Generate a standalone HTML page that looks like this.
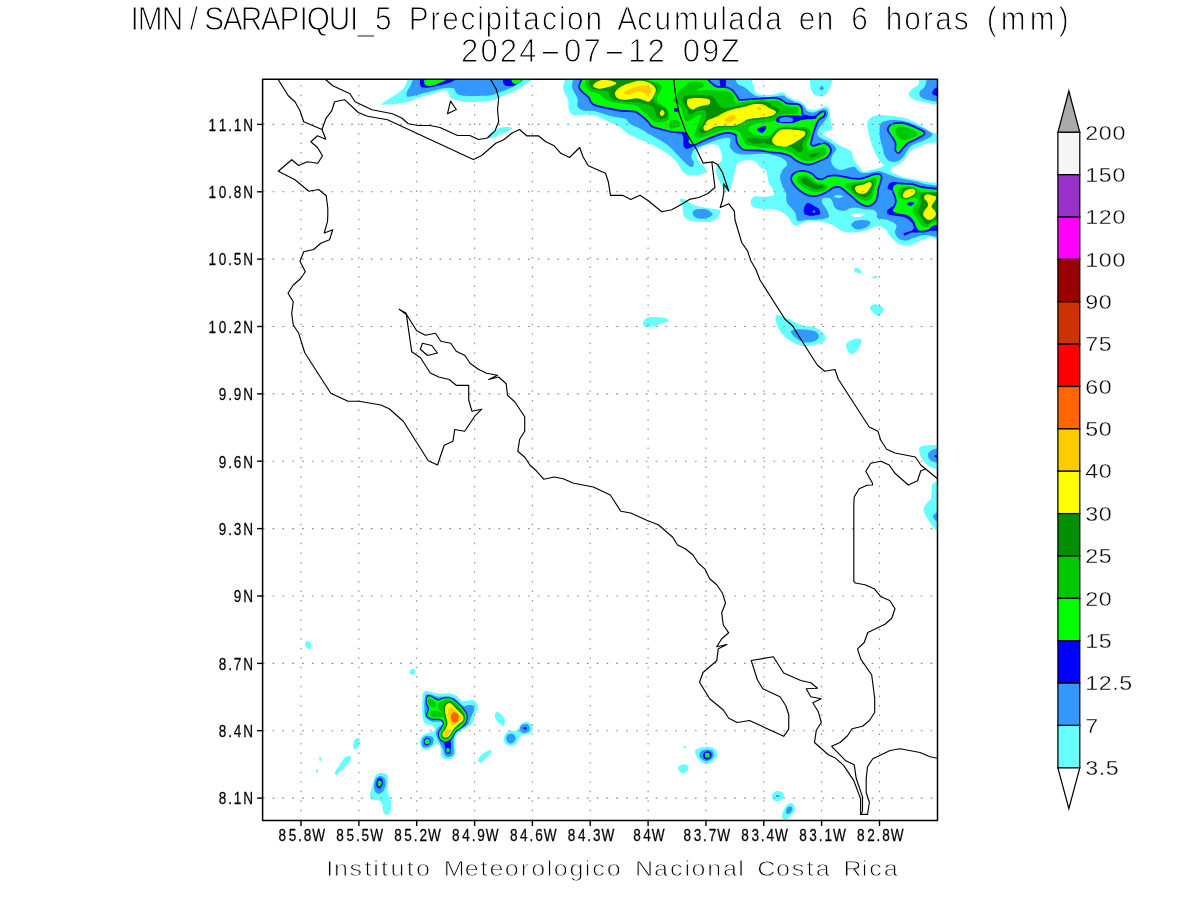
<!DOCTYPE html>
<html lang="es"><head><meta charset="utf-8"><title>IMN/SARAPIQUI_5 Precipitacion Acumulada en 6 horas (mm)</title>
<style>
html,body{margin:0;padding:0;background:#fff;}
body{width:1200px;height:900px;overflow:hidden;}
svg{display:block;}
text{font-family:"Liberation Sans",sans-serif;fill:#000;}
.thin{stroke:#fff;}
.coast{fill:none;stroke:#000;stroke-width:1.15;stroke-linejoin:round;stroke-linecap:round;}
.grid{fill:none;stroke:#8c8c8c;stroke-width:1.1;}
.tick{stroke:#000;stroke-width:1.4;fill:none;}
.cb{stroke:#000;stroke-width:1.25;stroke-linejoin:miter;stroke-miterlimit:10;}
</style></head><body>
<svg width="1200" height="900" viewBox="0 0 1200 900">
<rect x="0" y="0" width="1200" height="900" fill="#fff"/>
<defs><clipPath id="fr"><rect x="262.6" y="79.3" width="674.9" height="741.2"/></clipPath></defs>
<g clip-path="url(#fr)" shape-rendering="geometricPrecision">
<path d="M567.5 75C567.5 75 563 83.3 563.1 87.5C563.2 91.7 567.2 96.5 568.1 100C569.1 103.5 567.8 106.2 568.8 108.8C569.7 111.2 569.8 114 573.8 115C577.7 116 586.9 114 592.5 115C598.1 116 602.9 119.2 607.5 121.2C612.1 123.3 616.2 125.2 620 127.5C623.8 129.8 625 132.3 630 135C635 137.7 644.4 141 650 143.8C655.6 146.5 659.6 148.5 663.8 151.2C667.9 154 671.9 156.7 675 160C678.1 163.3 680.2 168.8 682.5 171.2C684.8 173.8 685.6 174.5 688.8 175C691.9 175.5 698.3 175.2 701.2 174.4C704.2 173.5 706 171.6 706.2 170C706.5 168.4 704 166.9 702.5 165C701 163.1 698.4 160.8 697.5 158.8C696.6 156.7 696.2 154.4 696.9 152.5C697.5 150.6 699.1 148.9 701.2 147.5C703.4 146.1 707.3 144.7 710 144.4C712.7 144.1 715.6 144.3 717.5 145.6C719.4 147 720.5 150.1 721.2 152.5C722 154.9 722.5 157.9 721.9 160C721.2 162.1 718.4 162.9 717.5 165C716.6 167.1 715.8 169.6 716.2 172.5C716.7 175.4 718.5 179.6 720 182.5C721.5 185.4 723.3 188.8 725 190C726.7 191.2 728.5 192.3 730 190C731.5 187.7 732.5 180.6 733.8 176.2C735 171.9 735.6 166.4 737.5 163.8C739.4 161.1 742.1 161 745 160.6C747.9 160.2 752.5 160.2 755 161.2C757.5 162.3 758.1 165.2 760 166.9C761.9 168.5 764.8 168.6 766.2 171.2C767.7 173.9 767.5 179.2 768.8 182.5C770 185.8 773.1 189.1 773.8 191.2C774.4 193.4 774.4 194.7 772.5 195.6C770.6 196.6 765.4 196.8 762.5 196.9C759.6 197 756.9 195.7 755 196.2C753.1 196.8 751.8 198.3 751.2 200C750.7 201.7 750.4 204.8 751.9 206.2C753.3 207.7 757 208.3 760 208.8C763 209.2 766.7 208.3 770 208.8C773.3 209.2 777.1 210 780 211.2C782.9 212.5 785.6 214.5 787.5 216.2C789.4 218 789.8 220.3 791.2 221.9C792.7 223.4 793.5 225.7 796.2 225.6C799 225.5 803.5 222 807.5 221.2C811.5 220.5 815.8 220.6 820 221.2C824.2 221.9 828.8 223.3 832.5 225C836.2 226.7 838.8 230 842.5 231.2C846.2 232.5 850.8 232.7 855 232.5C859.2 232.3 863.8 231 867.5 230C871.2 229 874.4 226.2 877.5 226.2C880.6 226.2 884.2 228.3 886.2 230C888.3 231.7 887.9 234 890 236.2C892.1 238.5 895.4 242.3 898.8 243.8C902.1 245.2 906 245.6 910 245C914 244.4 919 241.2 922.5 240C926 238.8 927.5 237 931.2 237.5C935 238 945 243.1 945 243.1L945 183.1C945 183.1 932.5 182.5 927.5 181.9C922.5 181.2 919.2 180.2 915 179.4C910.8 178.5 906.2 178 902.5 176.9C898.8 175.7 894.4 174 892.5 172.5C890.6 171 890 169.6 891.2 168.1C892.5 166.7 897.5 165.5 900 163.8C902.5 162 904.6 159.6 906.2 157.5C907.9 155.4 907.7 153.1 910 151.2C912.3 149.4 916.7 147.6 920 146.2C923.3 144.9 925.8 143.8 930 143.1C934.2 142.5 945 142.5 945 142.5L945 133.8C945 133.8 936.7 134 932.5 132.5C928.3 131 924.6 127.4 920 125C915.4 122.6 909.6 119.6 905 118.1C900.4 116.7 896.7 116.8 892.5 116.2C888.3 115.7 883.5 114.8 880 115C876.5 115.2 873.3 116.2 871.2 117.5C869.2 118.8 868 120.2 867.5 122.5C867 124.8 867.5 127.9 868.1 131.2C868.8 134.6 870.1 139 871.2 142.5C872.4 146 873.5 149.4 875 152.5C876.5 155.6 878.5 159.2 880 161.2C881.5 163.3 883.8 164 883.8 165C883.8 166 882.1 166.7 880 167.5C877.9 168.3 874 169.3 871.2 170C868.5 170.7 865.6 172.3 863.8 171.9C861.9 171.5 861.7 169.5 860 167.5C858.3 165.5 855.2 162.7 853.8 160C852.3 157.3 853.3 153.5 851.2 151.2C849.2 149 844.8 148.3 841.2 146.2C837.7 144.2 833.1 140.8 830 138.8C826.9 136.7 822.1 135.4 822.5 133.8C822.9 132.1 831 130.2 832.5 128.8C834 127.3 831.7 127.1 831.2 125C830.8 122.9 830.3 119 830 116.2C829.7 113.5 830.2 110.4 829.4 108.8C828.5 107.1 827.2 106 825 106.2C822.8 106.5 819.2 109.6 816.2 110C813.3 110.4 809.4 109.6 807.5 108.8C805.6 107.9 806.2 106.2 805 105C803.8 103.8 801.7 102.1 800 101.2C798.3 100.4 797.1 100.8 795 100C792.9 99.2 789.6 97.5 787.5 96.2C785.4 95 785.4 92.7 782.5 92.5C779.6 92.3 774.2 94.8 770 95C765.8 95.2 760.2 95 757.5 93.8C754.8 92.5 754.8 90.6 753.8 87.5C752.7 84.4 751.2 75 751.2 75L567.5 75Z" fill="#66ffff"/>
<path d="M917.5 75C917.5 75 919.8 81.2 918.8 83.8C917.7 86.2 912.9 88.1 911.2 90C909.6 91.9 908.1 93.3 908.8 95C909.4 96.7 912.3 98.8 915 100C917.7 101.2 920 101.4 925 102.5C930 103.6 945 106.9 945 106.9L945 75L917.5 75Z" fill="#66ffff"/>
<path d="M810 75C810 75 809.8 78.8 810 81.2C810.2 83.8 810.2 87.6 811.2 90C812.3 92.4 814 94.8 816.2 95.6C818.5 96.5 822.7 96.4 825 95C827.3 93.6 828.5 90.8 830 87.5C831.5 84.2 833.8 75 833.8 75L810 75Z" fill="#66ffff"/>
<path d="M409.2 75C409.2 75 406.5 84.2 404.2 87.5C401.8 90.8 398.6 92.4 395 95C391.4 97.6 384.3 101.7 382.5 103.3C380.7 104.9 380.3 104.8 384.2 104.7C388.1 104.5 399.9 103.7 405.8 102.5C411.8 101.3 413.8 99.4 420 97.5C426.2 95.6 438.8 91.8 443.3 90.8C447.9 89.9 446.1 90.4 447.5 91.7C448.9 92.9 449 96.7 451.7 98.3C454.3 100 458.9 101.1 463.3 101.7C467.8 102.2 473.2 101.9 478.3 101.7C483.5 101.4 490 101 494.2 100C498.3 99 499 97.8 503.3 95.8C507.6 93.9 514.2 91.8 520 88.3C525.8 84.9 538.3 75 538.3 75L409.2 75Z" fill="#66ffff"/>
<path d="M487.5 135.8C488.3 134.4 493.8 130.6 496.7 129.2C499.6 127.7 502.4 127.1 505 127C507.6 126.9 512.8 127.3 512.5 128.3C512.2 129.4 506.8 131.7 503.3 133.3C499.9 134.9 494.3 137.6 491.7 138C489 138.4 486.7 137.3 487.5 135.8Z" fill="#66ffff"/>
<path d="M680 199.4C680.6 198.3 684 199.1 686.2 200C688.5 200.9 690.2 203.6 693.8 205C697.3 206.4 703.2 207.3 707.5 208.1C711.8 209 717.3 209.1 719.4 210C721.5 210.9 720.5 212.3 720 213.8C719.5 215.2 717.9 217.4 716.2 218.8C714.6 220.1 713.5 221.5 710 221.9C706.5 222.3 699 221.8 695 221.2C691 220.7 688.2 220 686.2 218.8C684.3 217.5 683.8 215.8 683.1 213.8C682.5 211.7 683 208.6 682.5 206.2C682 203.9 679.4 200.4 680 199.4Z" fill="#66ffff"/>
<path d="M851.2 214.6C851.5 214 853.5 213 855.8 212.9C858.1 212.8 864.3 213.5 865 214.2C865.7 214.8 861.8 216.2 860 216.7C858.2 217.1 855.6 217 854.2 216.7C852.7 216.3 851 215.2 851.2 214.6Z" fill="#ffffff"/>
<path d="M575.6 75C575.6 75 571.6 82.3 571.9 86.2C572.2 90.2 576.6 95.4 577.5 98.8C578.4 102.1 576.5 104.3 577.5 106.2C578.5 108.2 580.8 109.8 583.8 110.6C586.7 111.5 590.4 110.3 595 111.2C599.6 112.2 606.2 115 611.2 116.2C616.2 117.5 621.9 117.5 625 118.8C628.1 120 627.1 121.9 630 123.8C632.9 125.6 638.3 127.7 642.5 130C646.7 132.3 650.8 135 655 137.5C659.2 140 663.8 142.1 667.5 145C671.2 147.9 674.2 151.7 677.5 155C680.8 158.3 685 163 687.5 165C690 167 691.5 167.3 692.5 166.9C693.5 166.5 694 164.1 693.8 162.5C693.5 160.9 691.5 159.2 691.2 157.5C691 155.8 691.8 154 692.5 152.5C693.2 151 693.1 150 695.6 148.5C698.1 147 703.4 145.1 707.5 143.5C711.6 141.9 716.2 139.8 720 139C723.8 138.2 728.3 137.1 730 138.5C731.7 139.9 728.8 145 730 147.5C731.2 150 734.2 152.6 737.5 153.8C740.8 154.9 745.4 154.4 750 154.4C754.6 154.4 760.4 153.4 765 153.8C769.6 154.1 774.2 155.2 777.5 156.2C780.8 157.3 783.4 158.5 785 160C786.6 161.5 787.3 163.3 786.9 165C786.5 166.7 783.6 167.9 782.5 170C781.4 172.1 780 174.8 780 177.5C780 180.2 781.5 183.5 782.5 186.2C783.5 189 785.5 191 786.2 193.8C787 196.5 785.4 199.4 786.9 202.5C788.3 205.6 793.2 209.4 795 212.5C796.8 215.6 795.7 219.6 797.5 220.8C799.3 222.1 802.4 220.2 805.8 220C809.3 219.8 814.6 220 818.3 219.6C822.1 219.2 826.7 218.5 828.3 217.5C830 216.5 828.8 214.9 828.3 213.3C827.9 211.8 826.8 210 825.8 208.3C824.9 206.7 823.2 204.7 822.5 203.3C821.8 201.9 821.4 200.9 821.7 200C821.9 199.1 822.8 198.2 824.2 197.9C825.6 197.6 828.6 197.7 830 198.3C831.4 199 831.8 200.3 832.5 201.7C833.2 203.1 833.2 205.3 834.2 206.7C835.1 208.1 836.5 209.3 838.3 210C840.1 210.7 843.1 211.1 845 210.8C846.9 210.6 847.8 208.8 850 208.3C852.2 207.8 855.8 207.8 858.3 207.9C860.8 208.1 862.5 208.8 865 209.2C867.5 209.5 871.4 209.3 873.3 210C875.3 210.7 876 211.9 876.7 213.3C877.4 214.7 875.7 217.2 877.5 218.3C879.3 219.4 884.4 218.9 887.5 220C890.6 221.1 895 222.9 896.2 225C897.5 227.1 894.6 230.2 895 232.5C895.4 234.8 896.9 237.4 898.8 238.8C900.6 240.1 903.5 240.8 906.2 240.6C909 240.4 911.7 238.4 915 237.5C918.3 236.6 921.2 234.8 926.2 235C931.2 235.2 945 238.8 945 238.8L945 186.2C945 186.2 932.5 185.2 927.5 184.4C922.5 183.5 919.2 182.2 915 181.2C910.8 180.3 906.7 179.8 902.5 178.8C898.3 177.7 893.3 176.1 890 175C886.7 173.9 884.6 172.5 882.5 171.9C880.4 171.2 880.4 171 877.5 171.2C874.6 171.5 868.1 173.1 865 173.1C861.9 173.1 860.4 172.3 858.8 171.2C857.1 170.2 856.5 167.5 855 166.9C853.5 166.2 852.5 167 850 167.5C847.5 168 842.7 170.2 840 170C837.3 169.8 835.2 167.7 833.8 166.2C832.3 164.8 831.5 163.1 831.2 161.2C831 159.4 831.7 156.9 832.5 155C833.3 153.1 835.8 151.5 836.2 150C836.7 148.5 836 147.5 835 146.2C834 145 832.1 143.8 830 142.5C827.9 141.2 824.6 140 822.5 138.8C820.4 137.5 818.1 136.7 817.5 135C816.9 133.3 817.3 131.5 818.8 128.8C820.2 126 824.7 121.5 826.2 118.8C827.8 116 828.3 114.2 828.1 112.5C827.9 110.8 826.6 109.1 825 108.8C823.4 108.4 820.6 110 818.8 110.6C816.9 111.2 815.6 112.4 813.8 112.5C811.9 112.6 809.2 112.3 807.5 111.2C805.8 110.2 805 107.5 803.8 106.2C802.5 105 801.5 104.5 800 103.8C798.5 103 797.1 102.7 795 101.9C792.9 101 789.6 99.8 787.5 98.8C785.4 97.7 785.4 95.9 782.5 95.6C779.6 95.3 774.2 96.8 770 96.9C765.8 97 760.4 96.8 757.5 96.2C754.6 95.7 754.6 95.2 752.5 93.8C750.4 92.3 747.5 89.2 745 87.5C742.5 85.8 739.2 85.8 737.5 83.8C735.8 81.7 735 75 735 75L575.6 75Z" fill="#3399ff"/>
<path d="M834.2 196.7C833.9 196.2 835.4 195.2 836.7 195C837.9 194.8 840.6 195.1 841.7 195.4C842.7 195.8 843.5 196.7 842.9 197.1C842.4 197.5 839.8 198 838.3 197.9C836.9 197.8 834.4 197.2 834.2 196.7Z" fill="#66ffff"/>
<path d="M880 125C880.8 122.3 882.5 122.1 885 121.2C887.5 120.4 891.2 119.9 895 120C898.8 120.1 903.5 120.8 907.5 121.9C911.5 122.9 915.2 124.7 918.8 126.2C922.3 127.8 926.5 129.8 928.8 131.2C931 132.7 933.1 133.5 932.5 135C931.9 136.5 928.3 138.3 925 140C921.7 141.7 915.4 143.3 912.5 145C909.6 146.7 909 148.1 907.5 150C906 151.9 905.4 154.4 903.8 156.2C902.1 158.1 899.8 160.4 897.5 161.2C895.2 162.1 892.1 162.1 890 161.2C887.9 160.4 886.2 158.5 885 156.2C883.8 154 883.3 150.6 882.5 147.5C881.7 144.4 880.4 141.2 880 137.5C879.6 133.8 879.2 127.7 880 125Z" fill="#3399ff"/>
<path d="M927.5 75C927.5 75 926.2 83.5 925 86.2C923.8 89 920.8 89.6 920 91.2C919.2 92.9 918.8 94.8 920 96.2C921.2 97.7 923.3 98.9 927.5 100C931.7 101.1 945 103.1 945 103.1L945 75L927.5 75Z" fill="#3399ff"/>
<path d="M414.2 75C414.2 75 411.9 82.4 410.8 85C409.7 87.6 408.1 88.9 407.5 90.8C406.9 92.8 405.4 96.1 407.5 96.7C409.6 97.2 414 95.6 420 94.2C426 92.8 437.8 89.3 443.3 88.3C448.9 87.4 451.1 87.5 453.3 88.3C455.6 89.2 455 92.1 456.7 93.3C458.3 94.6 458.9 95.4 463.3 95.8C467.8 96.2 478.2 96.1 483.3 95.8C488.5 95.6 488.9 95.8 494.2 94.2C499.4 92.5 509 89 515 85.8C521 82.6 530 75 530 75L414.2 75Z" fill="#3399ff"/>
<path d="M692.5 212.5C692.7 211.2 694 209.9 696.2 209.4C698.5 208.9 703.5 208.6 706.2 209.4C709 210.1 712.1 212.4 712.5 213.8C712.9 215.1 710.6 216.7 708.8 217.5C706.9 218.3 703.5 218.9 701.2 218.8C699 218.6 696.5 217.9 695 216.9C693.5 215.8 692.3 213.8 692.5 212.5Z" fill="#3399ff"/>
<path d="M851.2 224.6C851.7 223.5 853.7 221.6 855.8 220.8C858 220.1 861.8 219.9 864.2 220C866.5 220.1 869.2 220.8 870 221.7C870.8 222.5 870.1 223.9 869.2 225C868.2 226.1 866.1 227.6 864.2 228.3C862.2 229.1 859.3 229.7 857.5 229.6C855.7 229.4 854.4 228.3 853.3 227.5C852.3 226.7 850.8 225.7 851.2 224.6Z" fill="#3399ff"/>
<path d="M819.4 88.1C819.4 87.4 821.1 86.2 821.9 86.2C822.6 86.2 823.8 87.4 823.8 88.1C823.8 88.9 822.6 90.6 821.9 90.6C821.1 90.6 819.4 88.9 819.4 88.1Z" fill="#3399ff"/>
<path d="M680 131.2C680.7 130.4 685.9 129.4 687.5 131.2C689.1 133.1 688.3 140.1 689.4 142.5C690.4 144.9 694.1 144.6 693.8 145.6C693.4 146.7 689.2 148.6 687.5 148.8C685.8 148.9 684.5 148.3 683.8 146.2C683 144.2 683.8 138.8 683.1 136.2C682.5 133.8 679.3 132.1 680 131.2Z" fill="#0000ff"/>
<path d="M719.4 75L725.6 75C725.6 75 726.5 84.4 725.6 86.2C724.8 88.1 721.7 88.1 720.6 86.2C719.6 84.4 719.4 75 719.4 75Z" fill="#0000ff"/>
<path d="M804.2 207.5C804.7 205.8 806 203.3 807.5 202.9C809 202.6 811.5 204.5 813.3 205.4C815.1 206.3 817.2 207.3 818.3 208.3C819.4 209.4 819.8 210.6 820 211.7C820.2 212.7 820.6 214 819.6 214.6C818.6 215.2 816 215.3 814.2 215.4C812.3 215.6 810 215.8 808.3 215.4C806.7 215.1 804.9 214.7 804.2 213.3C803.5 212 803.6 209.2 804.2 207.5Z" fill="#0000ff"/>
<path d="M945 86.2C945 86.2 939.6 86 937.5 86.9C935.4 87.7 933.1 89.9 932.5 91.2C931.9 92.6 931.7 94.1 933.8 95C935.8 95.9 945 96.9 945 96.9L945 86.2Z" fill="#0000ff"/>
<path d="M887.9 187.5C888.1 186.6 888.3 184.7 889.2 183.8C890.1 182.8 891.8 182.2 893.3 182.1C894.9 181.9 898.1 182.3 898.3 182.9C898.6 183.5 895.8 184.7 895 185.8C894.2 187 894.4 189.4 893.3 190C892.2 190.6 889.2 189.6 888.3 189.2C887.4 188.8 887.8 188.4 887.9 187.5Z" fill="#0000ff"/>
<path d="M887.1 210.4 891.7 206.7 895.8 206.7 895 212.5 906.7 215 914.2 221.7 918.3 230 928.3 229.6 945 221.7 945 230.8 928.3 230.8 918.3 232.5 911.7 232.5 904.2 235.8 903.3 233.3 911.7 230.8 914.2 228.3 912.5 223.3 908.3 219.2 903.3 216.7 895 215.8 887.5 214.2Z" fill="#0000ff"/>
<path d="M420.8 75C420.8 75 419.6 82.1 420 84.2C420.4 86.2 421.1 87.1 423.3 87.5C425.6 87.9 428.9 87.5 433.3 86.7C437.8 85.8 445 84.4 450 82.5C455 80.6 463.3 75 463.3 75L420.8 75Z" fill="#0000ff"/>
<path d="M503.3 75C503.3 75 502.5 81.4 503.3 83.3C504.2 85.2 506.1 86.2 508.3 86.3C510.6 86.5 513.5 86.1 516.7 84.2C519.9 82.3 527.5 75 527.5 75L503.3 75Z" fill="#0000ff"/>
<path d="M584.2 75C584.2 75 581.5 81.2 580.8 83.3C580.1 85.4 579.6 86.1 580 87.5C580.4 88.9 581.8 90.1 583.3 91.7C584.9 93.2 587.8 95 589.2 96.7C590.6 98.3 590.6 100.3 591.7 101.7C592.8 103 593.1 103.6 595.8 104.6C598.6 105.6 604 106.6 608.3 107.5C612.6 108.4 617.2 109.4 621.7 110C626.1 110.6 631.7 110 635 110.8C638.3 111.7 639.4 113.3 641.7 115C643.9 116.7 646.5 119 648.3 120.8C650.1 122.6 650.4 124.6 652.5 125.8C654.6 127.1 657.8 127.5 660.8 128.3C663.9 129.2 666.3 130 670.8 130.8C675.3 131.7 684.9 131.4 687.9 133.3C690.9 135.3 687.7 140.7 688.8 142.5C689.8 144.3 691.7 144.6 694.2 144.2C696.6 143.8 700.1 141.4 703.3 140C706.5 138.6 710 137.1 713.3 135.8C716.7 134.6 720.3 133.1 723.3 132.5C726.4 131.9 729.4 132.1 731.7 132.5C733.9 132.9 735.7 133.5 736.7 135C737.6 136.5 736.8 139.7 737.5 141.7C738.2 143.6 739.6 145.4 740.8 146.7C742.1 147.9 742.2 148.7 745 149.2C747.8 149.7 754.2 149.4 757.5 149.6C760.8 149.8 762.4 150.1 765 150.4C767.6 150.8 770.6 151.3 773.3 151.7C776.1 152 778.9 151.9 781.7 152.5C784.4 153.1 787.5 153.8 790 155C792.5 156.2 794.2 158.6 796.7 160C799.2 161.4 802.5 162.8 805 163.3C807.5 163.9 809.2 163.9 811.7 163.3C814.2 162.8 817.5 161.1 820 160C822.5 158.9 825 158.1 826.7 156.7C828.3 155.3 829.6 153.2 830 151.7C830.4 150.1 830 148.8 829.2 147.5C828.3 146.2 826.7 144.6 825 144.2C823.3 143.8 821.1 144.6 819.2 145C817.2 145.4 814.9 146.8 813.3 146.7C811.8 146.5 810.4 145.3 810 144.2C809.6 143.1 810.4 141.8 810.8 140C811.2 138.2 811.8 135.7 812.5 133.3C813.2 131 814 128.2 815 125.8C816 123.5 816.9 120.8 818.3 119.2C819.7 117.5 822.4 116.9 823.3 115.8C824.3 114.7 824.6 112.9 824.2 112.5C823.8 112.1 822.4 112.5 820.8 113.3C819.3 114.2 817.6 116.9 815 117.5C812.4 118.1 807.2 117.2 805 116.7C802.8 116.1 802.4 115.6 801.7 114.2C801 112.8 801.5 109.9 800.8 108.3C800.1 106.8 799.9 105.7 797.5 105C795.1 104.3 789.6 105 786.7 104.2C783.8 103.3 782.2 100.9 780 100C777.8 99.1 775.8 98.9 773.3 98.8C770.8 98.6 768.5 99 765 99.2C761.5 99.4 756.7 99.7 752.5 100C748.3 100.3 742.4 100.8 740 100.8C737.6 100.8 739 100.8 738.3 100C737.6 99.2 736.9 97.4 735.8 95.8C734.7 94.3 733.2 92.1 731.7 90.8C730.1 89.6 729.2 88.9 726.7 88.3C724.2 87.8 719.2 88.2 716.7 87.5C714.2 86.8 713.2 85.4 711.7 84.2C710.1 82.9 708.3 81.5 707.5 80C706.7 78.5 706.7 75 706.7 75L584.2 75Z" fill="#00ff00" stroke="#0000ff" stroke-width="3.4" paint-order="stroke"/>
<path d="M792.1 177.9C792.3 176.7 793 175.1 794.2 174.2C795.3 173.2 797.2 172.4 799.2 172.1C801.1 171.7 803.8 171.7 805.8 172.1C807.9 172.5 809.9 173.4 811.7 174.6C813.5 175.8 814.9 178.3 816.7 179.2C818.5 180.1 820.6 180.3 822.5 180C824.4 179.7 826.2 177.7 828.3 177.1C830.4 176.5 832.5 176.2 835 176.2C837.5 176.3 840.6 177 843.3 177.5C846.1 178 848.9 178.8 851.7 179.2C854.4 179.5 857.5 179.8 860 179.6C862.5 179.4 864.4 178.6 866.7 177.9C868.9 177.2 871.2 175.9 873.3 175.4C875.4 174.9 877.9 174.6 879.2 175C880.4 175.4 880.8 176.5 880.8 177.9C880.8 179.3 879.7 181.5 879.2 183.3C878.6 185.2 877.9 187.1 877.5 189.2C877.1 191.2 877.1 193.9 876.7 195.8C876.2 197.8 876 199.4 875 200.8C874 202.3 872.2 203.8 870.8 204.6C869.4 205.3 868.5 205.8 866.7 205.4C864.9 205.1 862.1 203.8 860 202.5C857.9 201.2 856.1 199.2 854.2 197.5C852.2 195.8 850.1 194 848.3 192.5C846.5 191 844.9 189.4 843.3 188.3C841.8 187.3 840.8 186.5 839.2 186.2C837.5 186 835.1 186 833.3 186.7C831.5 187.3 830.1 188.9 828.3 190C826.5 191.1 824.4 192.5 822.5 193.3C820.6 194.2 818.8 194.7 816.7 195C814.6 195.3 812.2 195.5 810 195C807.8 194.5 805.6 193.5 803.3 192.1C801.1 190.7 798.4 188.4 796.7 186.7C794.9 184.9 793.7 183.1 792.9 181.7C792.2 180.2 791.9 179.2 792.1 177.9Z" fill="#00ff00" stroke="#0000ff" stroke-width="3.4" paint-order="stroke"/>
<path d="M892.9 189.2C892.9 188 893.3 186.2 894.2 185.4C895.1 184.6 896.4 184.3 898.3 184.2C900.3 184 903.2 184.4 905.8 184.6C908.5 184.8 911.8 184.9 914.2 185.4C916.5 185.9 917.6 186.9 920 187.5C922.4 188.1 924.2 188.3 928.3 188.8C932.5 189.2 945 190.4 945 190.4L945 222.5C945 222.5 936.1 224.7 933.3 225.8C930.6 227 930.1 228.8 928.3 229.6C926.5 230.4 924.2 230.8 922.5 230.8C920.8 230.9 919.4 230.8 918.3 230C917.2 229.2 916.5 227.2 915.8 225.8C915.1 224.4 915 223.1 914.2 221.7C913.3 220.3 912.1 218.6 910.8 217.5C909.6 216.4 908.5 215.6 906.7 215C904.9 214.4 901.9 214.2 900 213.8C898.1 213.3 896.2 213.1 895 212.5C893.8 211.9 892.9 211 892.9 210C892.9 209 894.4 208.1 895 206.7C895.6 205.3 896.5 203.3 896.7 201.7C896.8 200 896.2 198.2 895.8 196.7C895.4 195.1 894.7 193.8 894.2 192.5C893.7 191.2 892.9 190.3 892.9 189.2Z" fill="#00ff00" stroke="#0000ff" stroke-width="3.4" paint-order="stroke"/>
<path d="M888.8 130C888.5 128.2 889.6 126.7 891.2 125.6C892.9 124.6 896 123.9 898.8 123.8C901.5 123.6 904.6 124.2 907.5 125C910.4 125.8 913.5 127.4 916.2 128.8C919 130.1 923.5 131.7 923.8 133.1C924 134.6 920.2 135.9 917.5 137.5C914.8 139.1 910 140.8 907.5 142.5C905 144.2 904 145.9 902.5 147.5C901 149.1 899.8 151.5 898.8 151.9C897.7 152.3 896.7 151.6 896.2 150C895.8 148.4 896.9 144.8 896.2 142.5C895.6 140.2 893.8 138.3 892.5 136.2C891.2 134.2 889 131.8 888.8 130Z" fill="#00ff00" stroke="#0000ff" stroke-width="3.4" paint-order="stroke"/>
<path d="M425.8 75C425.8 75 423.9 80.7 424.2 82.5C424.4 84.3 425.4 85.6 427.5 85.8C429.6 86.1 431.8 86 436.7 84.2C441.5 82.4 456.7 75 456.7 75L425.8 75Z" fill="#00ff00"/>
<path d="M510.8 75C510.8 75 511.2 81.1 512.5 82.5C513.8 83.9 516.1 84.6 518.3 83.3C520.6 82.1 525.8 75 525.8 75L510.8 75Z" fill="#00ff00"/>
<path d="M812.7 211.4C812.7 211 813.5 210.2 813.9 210.2C814.3 210.2 815.2 211 815.2 211.4C815.2 211.8 814.3 212.7 813.9 212.7C813.5 212.7 812.7 211.8 812.7 211.4Z" fill="#00ff00"/>
<path d="M674.2 107.9 677.9 107.9 677.9 111.7 674.2 111.7Z" fill="#0000ff"/>
<path d="M775.8 120C775.8 119 776.5 117 778.3 116.2C780.1 115.5 784 115.6 786.7 115.4C789.3 115.3 791.7 115.4 794.2 115.4C796.7 115.5 798.2 115.5 801.7 115.7C805.1 115.8 812.7 116 815 116.5C817.3 117 817.4 118.2 815.4 118.8C813.5 119.3 806.2 119.3 803.3 119.7C800.5 120 800 120.5 798.3 121C796.7 121.5 795.6 122.5 793.3 122.9C791.1 123.3 787.5 123.4 785 123.3C782.5 123.3 779.9 123.1 778.3 122.5C776.8 121.9 775.8 121 775.8 120Z" fill="#0000ff"/>
<path d="M779.2 120C779.2 119.3 779.6 118.4 780.8 117.9C782.1 117.4 784.7 117 786.7 117.1C788.6 117.2 791.5 117.6 792.5 118.3C793.5 119 793.5 120.6 792.5 121.2C791.5 121.9 788.6 121.9 786.7 122.1C784.7 122.2 782.1 122.4 780.8 122.1C779.6 121.7 779.2 120.7 779.2 120Z" fill="#3399ff"/>
<path d="M757.1 129.6C757.1 128.5 760.2 127.2 761.7 126.7C763.1 126.1 765.2 125.7 765.8 126.2C766.5 126.8 766.1 128.9 765.4 130C764.7 131.1 763.1 133 761.7 132.9C760.3 132.8 757.1 130.6 757.1 129.6Z" fill="#0000ff"/>
<path d="M907.1 203.8C907.2 203.2 908.8 202.5 910 202.3C911.2 202.1 913.8 202.1 914.2 202.5C914.6 202.9 913.3 204.4 912.5 205C911.7 205.6 910.1 206 909.2 205.8C908.3 205.6 906.9 204.3 907.1 203.8Z" fill="#0000ff"/>
<path d="M587.5 75C587.5 75 585.1 81.9 585 84.2C584.9 86.4 585.6 87.1 586.7 88.3C587.8 89.6 589.7 90.8 591.7 91.7C593.6 92.5 596.4 92.4 598.3 93.3C600.3 94.3 601.7 96.2 603.3 97.5C605 98.8 605.8 99.9 608.3 100.8C610.8 101.8 615 102.8 618.3 103.3C621.7 103.9 625.3 103.8 628.3 104.2C631.4 104.6 634.4 104.9 636.7 105.8C638.9 106.8 639.9 108.5 641.7 110C643.5 111.5 645.8 113.3 647.5 115C649.2 116.7 650.1 118.8 651.7 120C653.2 121.2 654.4 122.2 656.7 122.5C658.9 122.8 662.9 122.4 665 121.7C667.1 121 668.6 120 669.2 118.3C669.7 116.7 669 113.6 668.3 111.7C667.6 109.7 666.7 108.2 665 106.7C663.3 105.1 659.7 104 658.3 102.5C656.9 101 656.4 99.2 656.7 97.5C656.9 95.8 659.2 94.2 660 92.5C660.8 90.8 661.9 89 661.7 87.5C661.4 86 660.3 84.4 658.3 83.3C656.4 82.2 652.1 82.2 650 80.8C647.9 79.4 645.8 75 645.8 75L587.5 75Z" fill="#00c800"/>
<path d="M675 98.3C676 97.1 676.8 93.6 678.3 91.7C679.9 89.7 682.4 88.2 684.2 86.7C686 85.1 686.8 83.3 689.2 82.5C691.5 81.7 696 81.5 698.3 81.7C700.7 81.8 702.5 82.5 703.3 83.3C704.2 84.2 704.3 85.7 703.3 86.7C702.4 87.6 698.3 88.5 697.5 89.2C696.7 89.9 697.1 90.7 698.3 90.8C699.6 91 701.9 90.1 705 90C708.1 89.9 712.8 90.1 716.7 90.4C720.6 90.7 725.6 90.8 728.3 91.7C731.1 92.6 732.4 94.4 733.3 95.8C734.3 97.2 733.6 98.9 734.2 100C734.7 101.1 734.9 102.2 736.7 102.5C738.5 102.8 742.2 101.9 745 101.7C747.8 101.4 750.6 101.1 753.3 100.8C756.1 100.6 758.9 100 761.7 100C764.4 100 767.2 100.7 770 100.8C772.8 101 776.1 100.1 778.3 100.8C780.6 101.5 781.4 104 783.3 105C785.3 106 787.8 106.4 790 106.7C792.2 106.9 795.3 106.1 796.7 106.7C798.1 107.2 798.3 108.9 798.3 110C798.3 111.1 798.1 112.6 796.7 113.3C795.3 114 792.2 114 790 114.2C787.8 114.4 785.3 114.2 783.3 114.6C781.4 115 779.7 115.8 778.3 116.7C776.9 117.6 776.1 119.2 775 120C773.9 120.8 773.3 121.2 771.7 121.7C770 122.1 767.5 122.2 765 122.5C762.5 122.8 759 122.8 756.7 123.3C754.3 123.9 752.2 124.9 750.8 125.8C749.4 126.8 748.3 128.1 748.3 129.2C748.3 130.3 749.4 131.5 750.8 132.5C752.2 133.5 754.6 134.4 756.7 135C758.8 135.6 761.1 136.2 763.3 136.2C765.6 136.2 768.3 135.8 770 135C771.7 134.2 772.2 132.8 773.3 131.7C774.4 130.6 775 129.2 776.7 128.3C778.3 127.5 780.8 126.9 783.3 126.7C785.8 126.4 788.3 126.6 791.7 126.7C795 126.7 800.4 126.7 803.3 127.1C806.2 127.5 807.9 128.1 809.2 129.2C810.4 130.2 810.8 131.8 810.8 133.3C810.8 134.9 809.9 136.7 809.2 138.3C808.5 140 806.9 141.8 806.7 143.3C806.4 144.9 806.8 146.4 807.5 147.5C808.2 148.6 809.2 149.9 810.8 150C812.5 150.1 815.4 148.8 817.5 148.3C819.6 147.9 821.8 147.2 823.3 147.5C824.9 147.8 826.2 148.9 826.7 150C827.1 151.1 826.9 152.9 825.8 154.2C824.7 155.4 822.4 156.4 820 157.5C817.6 158.6 814.2 160.3 811.7 160.8C809.2 161.4 807.2 161.4 805 160.8C802.8 160.3 800.6 158.9 798.3 157.5C796.1 156.1 794.2 153.8 791.7 152.5C789.2 151.2 786.4 150.7 783.3 150C780.3 149.3 777.1 148.8 773.3 148.3C769.6 147.9 765 148.1 760.8 147.5C756.7 146.9 751 145.7 748.3 145C745.7 144.3 746 144.4 745 143.3C744 142.2 743.3 140.1 742.5 138.3C741.7 136.5 741.5 133.9 740 132.5C738.5 131.1 736.1 130.4 733.3 130C730.6 129.6 726.7 129.4 723.3 130C720 130.6 716.4 132.2 713.3 133.3C710.3 134.4 707.6 135.8 705 136.7C702.4 137.5 699.3 138.6 697.5 138.3C695.7 138.1 695.1 136.7 694.2 135C693.2 133.3 692.9 130.6 691.7 128.3C690.4 126.1 688.1 123.6 686.7 121.7C685.3 119.7 684 118.5 683.3 116.7C682.6 114.9 683.1 112.6 682.5 110.8C681.9 109 681.2 107.2 680 105.8C678.8 104.4 676.2 103.6 675 102.5C673.8 101.4 672.5 99.9 672.5 99.2C672.5 98.5 674 99.6 675 98.3Z" fill="#00c800"/>
<path d="M670 121.7C670.8 120.3 673.5 120 675 120C676.5 120 678.2 120.8 679.2 121.7C680.1 122.5 681.2 124 680.8 125C680.4 126 678.5 126.9 676.7 127.5C674.9 128.1 671.1 129.3 670 128.3C668.9 127.4 669.2 123.1 670 121.7Z" fill="#00c800"/>
<path d="M683.5 124C684 122.3 686.8 122 688.5 121C690.2 120 691.7 119 693.5 118C695.3 117 698.2 115.1 699.5 114.8C700.8 114.5 701.2 115.1 701.2 116C701.2 116.9 700.1 118.5 699.5 120C698.9 121.5 698.1 123.3 697.5 125C696.9 126.7 696.6 128.3 696 130C695.4 131.7 694.8 133.5 694 135C693.2 136.5 692 138.7 691 139C690 139.3 688.9 138.3 688 137C687.1 135.7 686.2 133.2 685.5 131C684.8 128.8 683 125.7 683.5 124Z" fill="#00ff00"/>
<path d="M796.7 179.2C796.9 177.9 798.3 176.5 800 175.8C801.7 175.2 804.7 175 806.7 175.4C808.6 175.8 810 177.2 811.7 178.3C813.3 179.5 814.6 181.5 816.7 182.5C818.8 183.5 822.4 183.5 824.2 184.2C826 184.9 827.4 185.7 827.5 186.7C827.6 187.6 826.5 189.1 825 190C823.5 190.9 820.6 191.9 818.3 192.1C816.1 192.3 814 192 811.7 191.2C809.3 190.5 806.4 188.8 804.2 187.5C801.9 186.2 799.6 184.7 798.3 183.3C797.1 181.9 796.4 180.4 796.7 179.2Z" fill="#00c800"/>
<path d="M845 185C845.4 183.8 849.2 183 851.7 182.5C854.2 182 857.2 182.5 860 182.1C862.8 181.7 866 180.7 868.3 180C870.7 179.3 872.8 177.9 874.2 177.9C875.6 177.9 876.5 178.5 876.7 180C876.8 181.5 875.6 184.4 875 186.7C874.4 188.9 873.9 191.4 873.3 193.3C872.8 195.3 872.8 197.1 871.7 198.3C870.6 199.6 868.6 200.7 866.7 200.8C864.7 201 862.1 200.1 860 199.2C857.9 198.2 856 196.5 854.2 195C852.4 193.5 850.7 191.7 849.2 190C847.6 188.3 844.6 186.2 845 185Z" fill="#00c800"/>
<path d="M898.3 192.5C898.5 191.1 898.9 189.3 900 188.3C901.1 187.4 903.1 186.9 905 186.7C906.9 186.4 909.7 186.3 911.7 186.7C913.6 187 915.3 187.9 916.7 188.8C918.1 189.6 918.6 191.2 920 191.7C921.4 192.2 920.8 191.6 925 191.7C929.2 191.7 945 192.1 945 192.1L945 218.3C945 218.3 935.3 221.9 932.5 223.3C929.7 224.7 929.9 226 928.3 226.7C926.8 227.3 924.7 227.6 923.3 227.1C921.9 226.5 921 224.7 920 223.3C919 222 918.5 220.7 917.5 219.2C916.5 217.6 915 215.7 914.2 214.2C913.3 212.6 912.4 211.4 912.5 210C912.6 208.6 914.2 207.1 915 205.8C915.8 204.6 917.2 203.8 917.5 202.5C917.8 201.2 917.6 199 916.7 198.3C915.7 197.6 913.3 198.1 911.7 198.3C910 198.6 908.2 199.9 906.7 200C905.1 200.1 903.8 199.7 902.5 199.2C901.2 198.6 899.9 197.8 899.2 196.7C898.5 195.6 898.2 193.9 898.3 192.5Z" fill="#00c800"/>
<path d="M895 130C895.2 128.4 896.9 127.3 898.8 126.9C900.6 126.5 903.5 126.8 906.2 127.5C909 128.2 913.1 130 915 131.2C916.9 132.5 918.3 133.8 917.5 135C916.7 136.2 912.5 137.9 910 138.8C907.5 139.6 904.6 140.4 902.5 140C900.4 139.6 898.8 137.9 897.5 136.2C896.2 134.6 894.8 131.6 895 130Z" fill="#00c800"/>
<path d="M591.7 75C591.7 75 589.2 81.9 589.2 84.2C589.2 86.4 590 87.3 591.7 88.3C593.3 89.4 596.4 89.9 599.2 90.4C601.9 91 606.5 90.6 608.3 91.7C610.1 92.7 608.9 95.3 610 96.7C611.1 98.1 612.5 99.2 615 100C617.5 100.8 621.2 101.2 625 101.7C628.8 102.1 634 102.1 637.5 102.5C641 102.9 643.3 103.5 645.8 104.2C648.3 104.9 651 105.6 652.5 106.7C654 107.8 654.3 109.2 655 110.8C655.7 112.5 655.6 115.3 656.7 116.7C657.8 118.1 660.1 119 661.7 119.2C663.2 119.3 664.9 118.6 665.8 117.5C666.8 116.4 667.6 114 667.5 112.5C667.4 111 666.2 109.4 665 108.3C663.8 107.2 661.7 106.7 660 105.8C658.3 105 656.1 104.6 655 103.3C653.9 102.1 653.1 100.3 653.3 98.3C653.6 96.4 656 93.5 656.7 91.7C657.4 89.9 658.1 88.9 657.5 87.5C656.9 86.1 655.1 84.4 653.3 83.3C651.5 82.2 648.6 82.2 646.7 80.8C644.7 79.4 641.7 75 641.7 75L591.7 75Z" fill="#009000"/>
<path d="M682.5 99.2C682.8 97.9 682.9 96.5 685 95.8C687.1 95.1 690.8 95.1 695 95C699.2 94.9 706.7 94.7 710 95.4C713.3 96.1 713.8 97.8 715 99.2C716.2 100.5 716.4 101.9 717.5 103.3C718.6 104.7 719.9 106.7 721.7 107.5C723.5 108.3 726.4 108.5 728.3 108.3C730.3 108.2 730.6 107.4 733.3 106.7C736.1 106 741.7 104.9 745 104.2C748.3 103.5 750.6 102.9 753.3 102.5C756.1 102.1 758.9 101.6 761.7 101.7C764.4 101.7 768.3 102.2 770 102.9C771.7 103.6 770.6 105.1 771.7 105.8C772.8 106.6 775.4 106.7 776.7 107.5C777.9 108.3 779.2 109.7 779.2 110.8C779.2 111.9 777.9 113.1 776.7 114.2C775.4 115.3 774.3 116.7 771.7 117.5C769 118.3 764.7 118.6 760.8 119.2C756.9 119.7 751.8 120.1 748.3 120.8C744.9 121.5 741.4 122.6 740 123.3C738.6 124 741.1 124.4 740 125C738.9 125.6 736 126.7 733.3 127.1C730.7 127.4 727.2 126.9 724.2 127.1C721.1 127.3 717.9 127.4 715 128.3C712.1 129.2 709 131.7 706.7 132.5C704.3 133.3 702.2 133.9 700.8 133.3C699.5 132.8 698.5 130.6 698.8 129.2C699 127.8 701.5 126.5 702.5 125C703.5 123.5 704.4 121.7 705 120C705.6 118.3 705.8 116.5 705.8 115C705.8 113.5 706.4 111.5 705 110.8C703.6 110.1 700 110.3 697.5 110.8C695 111.4 691.8 114.6 690 114.2C688.2 113.7 687.8 110.1 686.7 108.3C685.6 106.5 684 104.9 683.3 103.3C682.6 101.8 682.2 100.4 682.5 99.2Z" fill="#009000"/>
<path d="M747.5 139.2C748.2 138.3 753.8 138.3 756.7 138.3C759.6 138.3 762.6 139.3 765 139.2C767.4 139 769.4 138.3 770.8 137.5C772.2 136.7 772.2 135.4 773.3 134.2C774.4 132.9 775.8 131 777.5 130C779.2 129 780.6 128.2 783.3 127.9C786.1 127.6 790.6 128.1 794.2 128.3C797.8 128.5 802.8 128.3 805 129.2C807.2 130 807.4 131.8 807.5 133.3C807.6 134.9 806.7 136.7 805.8 138.3C805 140 803 141.4 802.5 143.3C802 145.3 803.6 148.5 802.9 150C802.2 151.5 799.9 152.8 798.3 152.5C796.7 152.2 795.3 149.4 793.3 148.3C791.4 147.2 789.3 146.2 786.7 145.8C784 145.4 780.4 146.1 777.5 145.8C774.6 145.6 771.9 144.6 769.2 144.2C766.4 143.8 763.6 143.5 760.8 143.3C758.1 143.2 754.7 144 752.5 143.3C750.3 142.6 746.8 140 747.5 139.2Z" fill="#009000"/>
<path d="M809.2 155.8C809.2 155.3 810.7 154.7 812.5 154.2C814.3 153.6 819.2 152.4 820 152.5C820.8 152.6 818.8 154.2 817.5 155C816.2 155.8 813.9 157.4 812.5 157.5C811.1 157.6 809.2 156.4 809.2 155.8Z" fill="#009000"/>
<path d="M801.2 180C801.2 179 803 178.1 804.2 177.9C805.3 177.7 806.8 177.9 808.3 178.8C809.9 179.6 811.5 181.9 813.3 182.9C815.1 184 817.4 184.4 819.2 185C820.9 185.6 823.3 185.6 823.8 186.2C824.2 186.9 823 188.2 821.7 188.8C820.3 189.3 817.8 189.9 815.8 189.6C813.9 189.3 811.9 188 810 187.1C808.1 186.2 805.6 185.3 804.2 184.2C802.7 183 801.2 181 801.2 180Z" fill="#009000"/>
<path d="M851.2 186.7C851.7 185.4 853.7 184.9 855.8 184.2C858 183.5 861.5 183.1 864.2 182.5C866.8 181.9 870.1 180.6 871.7 180.8C873.2 181.1 873.3 182.4 873.3 184.2C873.3 186 872.5 189.7 871.7 191.7C870.8 193.6 869.6 194.9 868.3 195.8C867.1 196.8 865.8 197.6 864.2 197.5C862.5 197.4 860.1 196 858.3 195C856.5 194 854.5 193.1 853.3 191.7C852.2 190.3 850.8 187.9 851.2 186.7Z" fill="#009000"/>
<path d="M900.8 193.3C900.7 192 901.5 190.9 902.5 190C903.5 189.1 905.1 188.3 906.7 187.9C908.2 187.6 910.3 187.6 911.7 187.9C913.1 188.3 914.3 189.1 915 190C915.7 190.9 916.1 192.2 915.8 193.3C915.6 194.4 914.6 195.8 913.3 196.7C912.1 197.5 910 198.1 908.3 198.3C906.7 198.5 904.6 198.8 903.3 197.9C902.1 197.1 901 194.7 900.8 193.3Z" fill="#009000"/>
<path d="M920 196.7C920 195.3 920.3 194 921.7 193.3C923.1 192.6 924.4 192.6 928.3 192.5C932.2 192.4 945 192.9 945 192.9L945 215C945 215 934.6 220.1 931.7 221.7C928.8 223.2 928.8 224.2 927.5 224.2C926.2 224.2 925.3 222.9 924.2 221.7C923.1 220.4 921.8 218.3 920.8 216.7C919.9 215 918.5 213.3 918.3 211.7C918.2 210 919.4 208.3 920 206.7C920.6 205 921.7 203.3 921.7 201.7C921.7 200 920 198.1 920 196.7Z" fill="#009000"/>
<path d="M592.9 85.8C593.1 85 594.5 83.4 595.8 82.5C597.2 81.6 599 80.6 600.8 80.2C602.6 79.8 604.7 79.8 606.7 80C608.6 80.2 610.9 80.8 612.5 81.2C614.1 81.7 616 82.3 616.2 82.9C616.5 83.5 615.5 84.3 614.2 85C612.8 85.7 610.7 86.5 608.3 87.1C606 87.7 602.2 88.7 600 88.8C597.8 88.8 596.2 88 595 87.5C593.8 87 592.8 86.7 592.9 85.8Z" fill="#ffff00"/>
<path d="M615 93.3C615.1 91.9 616.1 90.5 617.5 89.2C618.9 87.8 621 86.5 623.3 85.4C625.7 84.3 629.2 83.3 631.7 82.5C634.2 81.7 636.1 81 638.3 80.8C640.6 80.6 642.8 80.7 645 81.2C647.2 81.8 649.9 82.8 651.7 84.2C653.5 85.5 655.4 87.4 655.8 89.2C656.2 91 654.9 93.3 654.2 95C653.5 96.7 652.6 98.1 651.7 99.2C650.7 100.3 649.7 101.5 648.3 101.7C646.9 101.8 645.3 100.6 643.3 100C641.4 99.4 639.2 98.4 636.7 98.3C634.2 98.3 630.8 99.4 628.3 99.6C625.8 99.8 623.6 99.9 621.7 99.6C619.7 99.2 617.8 98.5 616.7 97.5C615.6 96.5 614.9 94.7 615 93.3Z" fill="#ffff00"/>
<path d="M660 112.5C660.1 111.7 660.7 110.8 661.2 110.4C661.8 110.1 662.8 109.9 663.3 110.4C663.9 110.9 664.7 112.4 664.6 113.3C664.4 114.2 663.2 115.6 662.5 115.8C661.8 116.1 660.8 115.6 660.4 115C660 114.4 659.9 113.3 660 112.5Z" fill="#ffff00"/>
<path d="M687.1 100.8C687.4 99.8 687.4 99.2 689.2 98.8C690.9 98.3 694.6 97.9 697.5 97.9C700.4 97.9 704.6 98.3 706.7 98.8C708.8 99.2 709.6 99.9 710 100.8C710.4 101.7 710.3 103.4 709.2 104.2C708.1 104.9 705.3 104.9 703.3 105.4C701.4 105.9 699.2 106.4 697.5 107.1C695.8 107.8 694.6 109.4 693.3 109.6C692.1 109.8 691 109.1 690 108.3C689 107.6 688 106.2 687.5 105C687 103.8 686.8 101.9 687.1 100.8Z" fill="#ffff00"/>
<path d="M703.3 128.3C703.2 127.2 704.2 125.6 705 124.2C705.8 122.8 706.4 121.2 708.3 120C710.3 118.8 714 117.9 716.7 116.7C719.3 115.4 721.4 113.8 724.2 112.5C726.9 111.2 729.9 110.1 733.3 109.2C736.8 108.2 741.7 107.5 745 106.7C748.3 105.8 750.3 104.5 753.3 104.2C756.4 103.8 760.8 104 763.3 104.6C765.8 105.1 766.2 106.3 768.3 107.5C770.4 108.7 775.3 110.3 775.8 111.7C776.4 113.1 774.2 114.9 771.7 115.8C769.2 116.8 764.7 116.9 760.8 117.5C756.9 118.1 751 118.6 748.3 119.2C745.7 119.7 746.4 119.9 745 120.7C743.6 121.4 741.9 122.9 740 123.8C738.1 124.6 736 125.5 733.3 125.8C730.7 126.2 727.2 125.7 724.2 125.8C721.1 126 717.4 126.1 715 126.7C712.6 127.2 711.5 128.5 710 129.2C708.5 129.9 706.9 131 705.8 130.8C704.7 130.7 703.5 129.4 703.3 128.3Z" fill="#ffff00"/>
<path d="M772.1 140C772.4 138.6 773.7 136.7 775 135C776.3 133.3 778.1 131 780 130C781.9 129 783.9 129.2 786.7 129.2C789.4 129.2 793.8 129.7 796.7 130C799.6 130.3 802.8 130.4 804.2 131.2C805.6 132.1 805.7 133.7 805 135C804.3 136.3 802.2 137.6 800 139.2C797.8 140.7 794.2 142.9 791.7 144.2C789.2 145.4 787.4 146.4 785 146.7C782.6 146.9 779.4 146.4 777.5 145.8C775.6 145.3 774.2 144.3 773.3 143.3C772.4 142.4 771.8 141.4 772.1 140Z" fill="#ffff00"/>
<path d="M855 188.3C855.1 187.3 856 186.5 857.5 185.8C859 185.1 862.1 184.8 864.2 184.2C866.2 183.5 868.8 181.9 870 182.1C871.2 182.2 871.8 183.8 871.7 185C871.5 186.2 870.1 187.8 869.2 189.2C868.2 190.5 867.4 192.2 865.8 192.9C864.3 193.7 861.5 193.9 860 193.8C858.5 193.6 857.5 193 856.7 192.1C855.8 191.2 854.9 189.4 855 188.3Z" fill="#ffff00"/>
<path d="M902.9 195C903.1 194.1 903.3 192.6 904.2 191.7C905.1 190.7 906.9 189.7 908.3 189.2C909.7 188.7 911.4 188.5 912.5 188.8C913.6 189 914.7 189.9 915 190.8C915.3 191.7 915 193.2 914.2 194.2C913.3 195.1 911.4 196 910 196.7C908.6 197.3 906.9 197.8 905.8 197.9C904.7 198 903.8 197.6 903.3 197.1C902.8 196.6 902.8 195.9 902.9 195Z" fill="#ffff00"/>
<path d="M924.2 198.3C923.8 197.2 924.3 196.1 925 195.4C925.7 194.7 926.9 194.1 928.3 194.2C929.7 194.2 932.1 195.4 933.3 195.8C934.6 196.2 935.5 196 935.8 196.7C936.2 197.4 936 198.8 935.4 200C934.9 201.2 933.1 202.9 932.5 204.2C931.9 205.4 931.2 206.4 931.7 207.5C932.1 208.6 934.3 209.6 935 210.8C935.7 212.1 936.1 213.8 935.8 215C935.6 216.2 934.4 217.5 933.3 218.3C932.2 219.2 930.4 220 929.2 220C927.9 220 926.8 219.2 925.8 218.3C924.9 217.5 923.6 216.2 923.3 215C923.1 213.8 923.5 212.2 924.2 210.8C924.9 209.4 926.9 208.1 927.5 206.7C928.1 205.3 928.1 203.9 927.5 202.5C926.9 201.1 924.6 199.5 924.2 198.3Z" fill="#ffff00"/>
<path d="M624.2 92.5C624.6 91.7 626.5 90.5 628.3 89.6C630.1 88.7 632.8 87.8 635 87.1C637.2 86.4 639.4 85.6 641.7 85.4C643.9 85.3 646.7 85.6 648.3 86.2C650 86.9 651.4 88.4 651.7 89.6C651.9 90.8 650.8 92.5 650 93.3C649.2 94.2 648.1 94.8 646.7 94.6C645.3 94.4 643.3 92.6 641.7 92.1C640 91.6 638.6 91.2 636.7 91.7C634.7 92.1 631.8 94.2 630 94.6C628.2 95 626.8 94.5 625.8 94.2C624.9 93.8 623.8 93.3 624.2 92.5Z" fill="#ffcc00"/>
<path d="M725 120C725.3 119 726.9 117.5 728.3 116.7C729.7 115.8 732.1 115 733.3 115C734.6 115 735.7 115.8 735.8 116.7C736 117.5 735.1 119 734.2 120C733.2 121 731.2 122.1 730 122.5C728.8 122.9 727.5 122.9 726.7 122.5C725.8 122.1 724.7 121 725 120Z" fill="#ffcc00"/>
<path d="M757.1 108.3C757.3 107.8 758.4 107.1 759.2 107.1C759.9 107.1 761.5 107.8 761.7 108.3C761.8 108.9 760.6 110.1 760 110.4C759.4 110.7 758.4 110.3 757.9 110C757.4 109.7 756.9 108.8 757.1 108.3Z" fill="#ffcc00"/>
<path d="M793.3 135.4C793.6 135.1 797.1 134.8 797.5 135C797.9 135.2 796.5 136.6 795.8 136.7C795.1 136.7 793.1 135.7 793.3 135.4Z" fill="#ffcc00"/>
<path d="M422.1 707.5C422.1 703.3 422.2 696.9 422.9 694.2C423.7 691.4 425.1 691.1 426.7 690.8C428.3 690.6 430.3 692 432.5 692.5C434.7 693 437.2 693.6 440 693.8C442.8 693.9 446.4 693 449.2 693.3C451.9 693.7 454.6 694.6 456.7 695.8C458.8 697.1 460 700 461.7 700.8C463.3 701.7 464.9 701 466.7 700.8C468.5 700.7 470.8 699.6 472.5 700C474.2 700.4 475.8 701.9 476.7 703.3C477.6 704.7 478.2 706.4 477.9 708.3C477.6 710.3 475.9 712.5 475 715C474.1 717.5 473.9 721.2 472.5 723.3C471.1 725.4 468.8 726.1 466.7 727.5C464.6 728.9 461.8 730.1 460 731.7C458.2 733.2 456.7 734.4 455.8 736.7C455 738.9 455 742.2 455 745C455 747.8 456.4 751.1 455.8 753.3C455.3 755.6 453.5 757.4 451.7 758.3C449.9 759.3 446.8 759.7 445 759.2C443.2 758.6 441.5 756.8 440.8 755C440.1 753.2 441.5 750.3 440.8 748.3C440.1 746.4 438.1 743.6 436.7 743.3C435.3 743.1 434.3 745.6 432.5 746.7C430.7 747.8 427.6 749.9 425.8 750C424 750.1 422.6 749 421.7 747.5C420.7 746 419.7 742.9 420 740.8C420.3 738.8 421.7 736.4 423.3 735C425 733.6 428.1 733.3 430 732.5C431.9 731.7 434.7 731.2 435 730C435.3 728.8 433.2 726 431.7 725C430.1 724 427.3 725.1 425.8 724.2C424.4 723.2 423.5 721.9 422.9 719.2C422.3 716.4 422.1 711.7 422.1 707.5Z" fill="#66ffff"/>
<path d="M424.6 713.3C424.3 709.7 424.4 699.9 425 696.7C425.6 693.5 426.1 694.2 428.3 694.2C430.6 694.2 435 696.3 438.3 696.7C441.7 697 445.6 695.9 448.3 696.2C451.1 696.6 452.5 697.2 455 698.8C457.5 700.3 461.1 704.8 463.3 705.8C465.6 706.9 466.7 705 468.3 705C470 705 472.4 705 473.3 705.8C474.3 706.7 474.6 708.1 474.2 710C473.8 711.9 471.9 715 470.8 717.5C469.7 720 469.4 722.9 467.5 725C465.6 727.1 461.4 728.2 459.2 730C456.9 731.8 455.1 733.6 454.2 735.8C453.2 738.1 453.4 740.4 453.3 743.3C453.3 746.2 454.3 751.1 453.8 753.3C453.2 755.6 451.5 756.2 450 756.7C448.5 757.1 446.2 757.2 445 755.8C443.8 754.4 443.6 751 442.5 748.3C441.4 745.7 439.4 742.5 438.3 740C437.2 737.5 435.8 735.4 435.8 733.3C435.8 731.2 437.2 729 438.3 727.5C439.4 726 442.1 725.1 442.5 724.2C442.9 723.2 442.5 722.1 440.8 721.7C439.2 721.2 434.9 722.2 432.5 721.7C430.1 721.1 428 719.7 426.7 718.3C425.3 716.9 424.9 716.9 424.6 713.3Z" fill="#3399ff"/>
<path d="M421.7 743.3C421.7 741.9 421.7 739.6 422.5 738.3C423.3 737.1 425.1 736.1 426.7 735.8C428.2 735.6 430.5 736 431.7 736.7C432.8 737.4 433.8 738.6 433.8 740C433.8 741.4 432.8 743.8 431.7 745C430.5 746.2 428.2 747.2 426.7 747.5C425.1 747.8 423.3 747.4 422.5 746.7C421.7 746 421.7 744.7 421.7 743.3Z" fill="#3399ff"/>
<path d="M444.2 740C445 738.9 448.9 738.9 450 740C451.1 741.1 450.8 744.6 450.8 746.7C450.9 748.8 450.8 751.2 450.4 752.5C450 753.8 449.1 754.2 448.3 754.2C447.6 754.2 446.4 753.8 445.8 752.5C445.3 751.2 445.3 748.8 445 746.7C444.7 744.6 443.3 741.1 444.2 740Z" fill="#0000ff"/>
<path d="M423.8 741.7C423.8 740.7 424.3 739.4 425 738.8C425.7 738.1 427 737.7 427.9 737.9C428.8 738.1 430.1 739.1 430.4 740C430.8 740.9 430.6 742.4 430 743.3C429.4 744.2 428 745.2 427.1 745.4C426.2 745.6 425.1 745.2 424.6 744.6C424 744 423.7 742.6 423.8 741.7Z" fill="#0000ff"/>
<path d="M427.1 715C427.1 713.5 429 710.8 429 708.8C429 706.7 426.9 704.6 426.8 702.5C426.8 700.4 426.8 696.6 428.8 696.2C430.7 695.9 436 700 438.3 700.4C440.6 700.8 440.8 699.1 442.5 698.8C444.2 698.4 446.5 698.1 448.3 698.3C450.1 698.5 451.5 698.9 453.3 700C455.1 701.1 457.2 703.1 459.2 705C461.1 706.9 463.8 709.9 465 711.7C466.2 713.5 466.5 714.2 466.7 715.8C466.8 717.5 466.7 719.9 465.8 721.7C465 723.5 463.5 725 461.7 726.7C459.9 728.3 456.5 730 455 731.7C453.5 733.3 453.6 735.1 452.5 736.7C451.4 738.2 449.9 740.1 448.3 740.8C446.8 741.6 444.8 741.8 443.3 741.2C441.9 740.7 440.3 739 439.6 737.5C438.9 736 438.8 734 439.2 732.5C439.5 731 440.8 729.9 441.7 728.3C442.5 726.8 444.3 724.9 444.2 723.3C444 721.8 442.6 719.9 440.8 719.2C439 718.4 435.3 719 433.3 718.8C431.4 718.5 430.2 718.1 429.2 717.5C428.1 716.9 427.1 716.5 427.1 715Z" fill="#00ff00" stroke="#0000ff" stroke-width="2.2" paint-order="stroke"/>
<path d="M446.2 749.2C446.4 748.4 447.3 747.8 447.9 747.9C448.5 748 449.9 748.8 450 749.6C450.1 750.3 449.2 752 448.8 752.5C448.3 753 447.5 753.1 447.1 752.5C446.7 751.9 446.1 749.9 446.2 749.2Z" fill="#00ff00"/>
<path d="M424.6 741.7C424.5 740.9 425.2 739.8 425.8 739.3C426.5 738.9 427.7 738.7 428.3 739C429 739.3 429.8 740.5 429.8 741.2C429.9 742 429.3 743.3 428.8 743.8C428.2 744.2 426.9 744.5 426.2 744.2C425.6 743.8 424.7 742.5 424.6 741.7Z" fill="#00ff00"/>
<path d="M427.7 699.6C428.1 698.7 430.3 698.9 431.7 699.6C433 700.3 435.4 702.4 435.8 703.8C436.2 705.1 435.3 707.3 434.2 707.5C433.1 707.7 430.2 706.3 429.2 705C428.1 703.7 427.2 700.5 427.7 699.6Z" fill="#00c800"/>
<path d="M430 712.1C430.4 711.1 433.1 710.8 435 710.8C436.9 710.9 440.3 711.5 441.7 712.5C443.1 713.5 443.9 715.9 443.3 716.7C442.8 717.4 440.1 717.1 438.3 717.1C436.5 717.1 433.9 717.5 432.5 716.7C431.1 715.8 429.6 713.1 430 712.1Z" fill="#00c800"/>
<path d="M438.3 705C438.8 703.9 439.7 702.5 440.8 701.7C441.9 700.8 443.5 700.3 445 700C446.5 699.7 448.3 699.6 450 700C451.7 700.4 453.1 701 455 702.5C456.9 704 459.9 706.9 461.7 709.2C463.4 711.4 464.9 713.8 465.4 715.8C465.9 717.9 465.5 720 464.6 721.7C463.7 723.3 461.7 724.3 460 725.8C458.3 727.4 455.6 729.2 454.2 730.8C452.8 732.5 452.8 734.4 451.7 735.8C450.6 737.3 448.9 739 447.5 739.6C446.1 740.2 444.4 740.1 443.3 739.6C442.2 739.1 441.2 737.8 440.8 736.7C440.4 735.5 440.4 733.9 440.8 732.5C441.2 731.1 442.6 729.9 443.3 728.3C444.1 726.8 445.4 725.3 445.4 723.3C445.4 721.4 444 718.5 443.3 716.7C442.7 714.9 442.5 713.9 441.7 712.5C440.8 711.1 438.9 709.6 438.3 708.3C437.8 707.1 437.9 706.1 438.3 705Z" fill="#00c800"/>
<path d="M444.2 711.7C443.9 709.9 443.1 708.1 443.3 706.7C443.6 705.2 444.7 703.8 445.8 702.9C446.9 702.1 448.6 701.5 450 701.7C451.4 701.9 452.5 702.8 454.2 704.2C455.8 705.6 458.3 707.9 460 710C461.7 712.1 464 714.7 464.6 716.7C465.1 718.6 464.2 720.3 463.3 721.7C462.4 723.1 460.8 723.6 459.2 725C457.6 726.4 455.1 728.3 453.8 730C452.4 731.7 452.3 733.6 451.2 735C450.2 736.4 448.8 737.8 447.5 738.3C446.2 738.9 444.7 738.8 443.8 738.3C442.8 737.9 441.9 736.8 441.7 735.8C441.4 734.9 441.6 733.8 442.1 732.5C442.6 731.2 443.9 729.9 444.6 728.3C445.3 726.8 446.2 725.1 446.2 723.3C446.3 721.5 445.3 719.4 445 717.5C444.7 715.6 444.4 713.5 444.2 711.7Z" fill="#009000"/>
<path d="M445.4 713.3C445.2 711.7 444.7 709.1 445 707.5C445.3 705.9 446.6 704.4 447.5 703.8C448.4 703.1 449.3 702.8 450.4 703.3C451.5 703.8 452.7 705.3 454.2 706.7C455.6 708.1 457.6 710 459.2 711.7C460.7 713.3 462.8 715.1 463.3 716.7C463.9 718.2 463.3 719.6 462.5 720.8C461.7 722.1 459.9 722.8 458.3 724.2C456.8 725.6 454.7 727.5 453.3 729.2C452 730.8 451.4 732.8 450.4 734.2C449.4 735.5 448.5 736.6 447.5 737.1C446.5 737.6 445 737.4 444.2 737.1C443.3 736.7 442.7 735.8 442.5 735C442.3 734.2 442.4 733.5 442.9 732.5C443.5 731.5 445.1 730.3 445.8 728.8C446.6 727.2 447.4 725.2 447.5 723.3C447.6 721.5 446.6 719.2 446.2 717.5C445.9 715.8 445.6 715 445.4 713.3Z" fill="#ffff00"/>
<path d="M448.3 715.8C448.1 714.3 447.6 712.2 447.9 710.8C448.2 709.4 449.1 707.9 450 707.5C450.9 707.1 452.1 707.5 453.3 708.3C454.6 709.2 456.1 711 457.5 712.5C458.9 714 461.1 715.8 461.7 717.1C462.2 718.3 461.7 719 460.8 720C460 721 458.1 722.3 456.7 723.3C455.3 724.4 453.5 726.2 452.5 726.2C451.5 726.2 451 724.4 450.4 723.3C449.9 722.3 449.5 721.2 449.2 720C448.8 718.8 448.5 717.4 448.3 715.8Z" fill="#ffcc00"/>
<path d="M444.2 735C444 734.3 444.2 733.3 444.6 732.5C445 731.7 445.9 730.4 446.7 730C447.4 729.6 448.7 729.6 449.2 730C449.7 730.4 449.8 731.6 449.6 732.5C449.4 733.4 448.5 734.7 447.9 735.4C447.3 736.1 446.5 736.7 445.8 736.7C445.2 736.6 444.4 735.7 444.2 735Z" fill="#ffcc00"/>
<path d="M451.2 719.2C451 718 450.9 716.1 451.2 715C451.6 713.9 452.4 712.8 453.3 712.5C454.2 712.2 455.8 712.4 456.7 712.9C457.6 713.5 458.5 714.7 458.8 715.8C459 717 458.8 718.9 458.3 720C457.8 721.1 456.7 722.2 455.8 722.5C454.9 722.8 453.7 722.6 452.9 722.1C452.2 721.5 451.5 720.3 451.2 719.2Z" fill="#ff6600"/>
<path d="M495 713.8C495.3 712.6 496.4 711.9 497.5 712.1C498.6 712.3 500.5 713.8 501.7 715C502.8 716.2 504.1 717.6 504.6 719.2C505.1 720.7 504.8 723.1 504.6 724.2C504.4 725.3 504.2 726 503.3 725.8C502.4 725.7 500.4 724.4 499.2 723.3C497.9 722.2 496.5 720.8 495.8 719.2C495.1 717.6 494.7 714.9 495 713.8Z" fill="#66ffff"/>
<path d="M504.2 736.7C504.6 735.1 505.4 733.5 506.7 732.5C507.9 731.5 510 731.1 511.7 730.8C513.3 730.6 515.3 731.7 516.7 730.8C518.1 730 518.9 727.2 520 725.8C521.1 724.4 521.9 723.1 523.3 722.5C524.7 721.9 526.9 721.5 528.3 722.1C529.8 722.6 531.4 724.4 532.1 725.8C532.8 727.3 533 729.4 532.5 730.8C532 732.2 530.6 733.5 529.2 734.2C527.8 734.8 525.7 734.2 524.2 734.6C522.6 735 521 735.6 520 736.7C519 737.7 518.6 739.6 517.9 740.8C517.2 742.1 516.9 743.3 515.8 744.2C514.8 745 513.1 745.6 511.7 745.8C510.3 746 508.8 746.1 507.5 745.4C506.2 744.7 504.7 743.1 504.2 741.7C503.6 740.2 503.8 738.2 504.2 736.7Z" fill="#66ffff"/>
<path d="M506.2 737.5C506.5 736.5 507.3 735.2 508.3 734.6C509.4 734 511.3 733.4 512.5 733.8C513.7 734.1 514.9 735.6 515.4 736.7C515.9 737.7 515.9 739 515.4 740C514.9 741 513.5 742.4 512.5 742.9C511.5 743.5 510.1 743.7 509.2 743.3C508.2 743 507.2 741.8 506.7 740.8C506.2 739.9 506 738.5 506.2 737.5Z" fill="#3399ff"/>
<path d="M520 727.5C520.4 726.6 521.2 725.1 522.5 724.6C523.8 724 526.3 723.8 527.5 724.2C528.7 724.6 529.3 726 529.6 727.1C529.9 728.2 529.8 729.9 529.2 730.8C528.5 731.8 527.1 732.6 525.8 732.9C524.6 733.2 522.6 733 521.7 732.5C520.7 732 520.3 730.8 520 730C519.7 729.2 519.6 728.4 520 727.5Z" fill="#3399ff"/>
<path d="M523.3 728.3C523.3 727.9 524.4 727 525 727.1C525.6 727.2 526.7 728.3 526.7 728.8C526.7 729.2 525.6 729.9 525 729.8C524.4 729.8 523.3 728.8 523.3 728.3Z" fill="#0000ff"/>
<path d="M478.3 760.8C478.2 759.7 479.6 757.2 480.8 755.8C482.1 754.4 484.2 753.5 485.8 752.5C487.4 751.5 489.6 749.9 490.4 750C491.2 750.1 491.5 752.1 490.8 753.3C490.2 754.6 488.2 756 486.7 757.5C485.1 759 483.1 761.9 481.7 762.5C480.3 763.1 478.5 761.9 478.3 760.8Z" fill="#66ffff"/>
<path d="M478.1 760C478.3 758.6 480.7 755.9 482.5 754.4C484.3 752.8 487.3 751.2 488.8 750.6C490.2 750 490.7 750.1 491 750.6C491.3 751.1 491.6 752.4 490.6 753.8C489.6 755.1 486.6 757.3 485 758.8C483.4 760.2 482.4 762.3 481.2 762.5C480.1 762.7 477.9 761.4 478.1 760Z" fill="#66ffff"/>
<path d="M353.1 745C353.2 743.3 354.2 740.5 355 739.4C355.8 738.2 357.3 737.9 358.1 738.1C359 738.3 360 739.2 360 740.6C360 742.1 359.1 745.4 358.1 746.9C357.2 748.3 355.2 749.7 354.4 749.4C353.5 749.1 353 746.7 353.1 745Z" fill="#66ffff"/>
<path d="M335 771.9C335.7 770.1 338.3 766.8 340 764.4C341.7 762 343.4 758.9 345 757.5C346.6 756.1 348.4 755.8 349.4 756C350.4 756.2 351.5 757.1 351 758.8C350.5 760.4 348.1 763.4 346.2 765.6C344.4 767.8 341.7 770.4 340 771.9C338.3 773.4 336.8 774.8 336 774.8C335.2 774.8 334.3 773.6 335 771.9Z" fill="#66ffff"/>
<path d="M319 756.9 321.2 756.9 321.5 760 319.8 761.9Z" fill="#66ffff"/>
<path d="M316 769.4 317.8 769.4 317.8 772.8 316.2 772.5Z" fill="#66ffff"/>
<path d="M370 795C370 792.6 371.7 788.1 372.5 785C373.3 781.9 373.8 778.2 375 776.2C376.2 774.3 377.9 773.3 380 773.1C382.1 772.9 386.1 773 387.5 775C388.9 777 388.1 782.1 388.1 785C388.1 787.9 387.2 790.4 387.5 792.5C387.8 794.6 389.4 795.4 390 797.5C390.6 799.6 391.2 802.5 391.2 805C391.2 807.5 390.8 810.8 390 812.5C389.2 814.2 387.4 815.2 386.2 815C385.1 814.8 383.9 813.1 383.1 811.2C382.4 809.4 382.6 805.5 381.9 803.8C381.1 802 380.3 801.4 378.8 800.6C377.2 799.9 374 800.3 372.5 799.4C371 798.4 370 797.4 370 795Z" fill="#66ffff"/>
<path d="M374 785C374.2 782.8 375.1 779.6 376.2 778.1C377.4 776.6 379.2 775.9 380.6 776C382.1 776.1 384.2 777.2 385 778.8C385.8 780.2 385.9 782.9 385.6 785C385.3 787.1 384.3 789.8 383.1 791.2C382 792.7 380.1 793.8 378.8 793.8C377.4 793.8 375.8 792.7 375 791.2C374.2 789.8 373.8 787.2 374 785Z" fill="#3399ff"/>
<path d="M376.2 783.8C376.4 782.5 376.8 780.3 377.5 779.4C378.2 778.4 379.8 777.8 380.6 778.1C381.5 778.4 382.5 780 382.8 781.2C383 782.5 382.8 784.4 382.2 785.6C381.7 786.8 380.3 788.3 379.4 788.5C378.5 788.7 377.4 787.7 376.9 786.9C376.4 786.1 376.1 785 376.2 783.8Z" fill="#0000ff"/>
<path d="M377.8 783.1C377.9 782.3 378.2 781 378.8 780.6C379.3 780.3 380.5 780.6 381 781C381.5 781.4 382 782.2 381.9 783.1C381.7 784 380.6 785.8 380 786.2C379.4 786.7 378.5 786.1 378.1 785.6C377.8 785.1 377.6 784 377.8 783.1Z" fill="#00ff00"/>
<path d="M409.5 671.5C409.8 670.6 411.5 668.6 412.5 668.5C413.5 668.4 415.4 669.9 415.5 671C415.6 672.1 413.8 674.5 413 675C412.2 675.5 411.1 674.6 410.5 674C409.9 673.4 409.2 672.4 409.5 671.5Z" fill="#66ffff"/>
<path d="M305.5 642C305.9 641.2 307.2 640.8 308 641C308.8 641.2 310 641.8 310.5 643C311 644.2 311.5 647.6 311 648.5C310.5 649.4 308.4 648.9 307.5 648.5C306.6 648.1 305.8 647.1 305.5 646C305.2 644.9 305.1 642.8 305.5 642Z" fill="#66ffff"/>
<path d="M695 751.9C694.9 750.2 696 749.6 697.5 748.8C699 747.9 701.2 747.1 703.8 746.9C706.2 746.7 710.4 746.9 712.5 747.5C714.6 748.1 715.5 749.4 716.2 750.6C717 751.9 717.3 753.3 716.9 755C716.5 756.7 715.1 759.2 713.8 760.6C712.4 762.1 710.6 763.3 708.8 763.8C706.9 764.2 704.3 764 702.5 763.1C700.7 762.3 699.4 760.6 698.1 758.8C696.9 756.9 695.1 753.5 695 751.9Z" fill="#66ffff"/>
<path d="M699.4 755.6C699.2 754.2 700.1 752.3 701.2 751.2C702.4 750.2 704.5 749.5 706.2 749.4C708 749.3 710.6 749.8 711.9 750.6C713.1 751.5 713.8 753 713.8 754.4C713.8 755.7 712.9 757.6 711.9 758.8C710.8 759.9 709.1 761 707.5 761.2C705.9 761.5 703.9 760.9 702.5 760C701.1 759.1 699.6 757.1 699.4 755.6Z" fill="#3399ff"/>
<path d="M703.1 755.6C703.1 754.6 703.5 753.3 704.4 752.5C705.2 751.7 707 750.9 708.1 751C709.3 751.1 710.7 752.1 711.2 753.1C711.8 754.1 711.8 755.8 711.2 756.9C710.7 757.9 709.3 759.1 708.1 759.4C707 759.7 705.2 759.4 704.4 758.8C703.5 758.1 703.1 756.7 703.1 755.6Z" fill="#0000ff"/>
<path d="M705 753.1 709.4 753.1 709.8 757.2 705.2 757.8Z" fill="#00ff00"/>
<path d="M683.1 746.2 686.9 746 684.4 748.8Z" fill="#66ffff"/>
<path d="M678.1 768.1C678.3 767.1 679.5 765.6 680.6 765C681.8 764.4 683.6 764.1 685 764.4C686.4 764.7 688.4 765.7 688.8 766.9C689.1 768 687.8 770.2 686.9 771.2C685.9 772.3 684.4 773.1 683.1 773.1C681.9 773.1 680.2 772.1 679.4 771.2C678.5 770.4 677.9 769.2 678.1 768.1Z" fill="#66ffff"/>
<path d="M771.9 796.2C771.8 794.7 773.2 792.8 774.4 791.9C775.5 791 777.3 790.8 778.8 791C780.2 791.2 782.3 792.1 783.1 793.1C784 794.1 784.2 795.6 783.8 796.9C783.3 798.1 782.1 799.9 780.6 800.6C779.2 801.3 776.5 801.7 775 801C773.5 800.3 772 797.8 771.9 796.2Z" fill="#66ffff"/>
<path d="M775.6 795.2 778.8 795 780 796.9 776.2 796.9Z" fill="#3399ff"/>
<path d="M781.9 816.2C782 814.7 782.9 811.9 783.8 810C784.6 808.1 785.6 806.1 786.9 805C788.1 803.9 789.9 802.9 791.2 803.1C792.6 803.3 794.2 804.9 794.8 806.2C795.3 807.6 795.2 809.6 794.4 811.2C793.6 812.9 791.4 814.8 790 816.2C788.6 817.7 787.4 819.2 786.2 819.8C785.1 820.3 783.9 820 783.1 819.4C782.4 818.8 781.8 817.8 781.9 816.2Z" fill="#66ffff"/>
<path d="M786 811.2C786.1 810.2 786.7 808.3 787.5 807.5C788.3 806.7 789.8 805.9 790.6 806.2C791.5 806.6 792.6 808.2 792.5 809.4C792.4 810.5 790.9 812.4 790 813.1C789.1 813.9 787.5 814.1 786.9 813.8C786.2 813.4 785.9 812.3 786 811.2Z" fill="#3399ff"/>
<path d="M643.1 322.5C643.4 321.4 644.5 319.6 645.6 318.8C646.8 317.9 648.2 317.4 650 317.1C651.8 316.9 653.8 317 656.2 317.1C658.8 317.3 663 317.8 665 318.1C667 318.5 667.6 318.8 668.1 319.4C668.6 319.9 669.3 320.8 668.1 321.5C667 322.2 663.4 323 661.2 323.8C659.1 324.5 657.3 325.7 655 326.2C652.7 326.8 649.4 327 647.5 326.9C645.6 326.8 644.5 326.4 643.8 325.6C643 324.9 642.8 323.6 643.1 322.5Z" fill="#66ffff"/>
<path d="M775.8 315.8C776.9 314 780.7 316 785 317.5C789.3 319 796.7 323.3 801.7 325C806.7 326.7 811.2 326 815 327.5C818.8 329 822.5 331.9 824.2 334.2C825.8 336.4 826.2 339.2 825 340.8C823.8 342.5 820.6 343.3 816.7 344.2C812.8 345 806.7 346.8 801.7 345.8C796.7 344.9 790.6 341.2 786.7 338.3C782.8 335.4 780.1 332.1 778.3 328.3C776.5 324.6 774.7 317.6 775.8 315.8Z" fill="#66ffff"/>
<path d="M790.8 331.7C791 330 794.6 329.3 798.3 329.2C802.1 329 809.9 329.9 813.3 330.8C816.7 331.8 818.1 333.5 818.7 335C819.2 336.5 818.7 338.8 816.7 340C814.7 341.2 809.9 342.6 806.7 342.5C803.5 342.4 800.1 341 797.5 339.2C794.9 337.4 790.7 333.3 790.8 331.7Z" fill="#3399ff"/>
<path d="M854.2 268.3C854.7 267.8 857.1 267.8 858.3 268.3C859.6 268.9 861.4 270.8 861.7 271.7C861.9 272.6 861.1 273.7 860 273.7C858.9 273.7 856 272.6 855 271.7C854 270.8 853.6 268.9 854.2 268.3Z" fill="#66ffff"/>
<path d="M871.7 278 875 275.3 878.7 278.3Z" fill="#66ffff"/>
<path d="M870 306.7C870.6 305.6 873.2 304.3 875 304.2C876.8 304 879.4 304.9 880.8 305.8C882.2 306.8 883.6 308.3 883.3 310C883.1 311.7 880.6 315.1 879.2 315.8C877.8 316.5 876.2 315 875 314.2C873.8 313.3 872.5 312.1 871.7 310.8C870.8 309.6 869.4 307.8 870 306.7Z" fill="#66ffff"/>
<path d="M846.7 343.3C847.8 341.8 851 339.9 853.3 339.2C855.7 338.5 859.6 338.3 860.8 339.2C862.1 340 861.7 342.1 860.8 344.2C860 346.2 857.5 350 855.8 351.7C854.2 353.3 852.4 354.7 850.8 354.2C849.3 353.6 847.4 350.1 846.7 348.3C846 346.5 845.6 344.9 846.7 343.3Z" fill="#66ffff"/>
<path d="M919.2 450.8C919.3 448.6 918.8 446.8 923.3 445.8C927.9 444.9 946.7 445 946.7 445L946.7 471.7C946.7 471.7 934 468.8 930 466.7C926 464.6 924.3 461.8 922.5 459.2C920.7 456.5 919 453.1 919.2 450.8Z" fill="#66ffff"/>
<path d="M928 455C928.1 453.1 929.4 451.1 932.5 449.7C935.6 448.3 946.7 446.7 946.7 446.7L946.7 465.8C946.7 465.8 934.8 462.6 931.7 460.8C928.6 459 927.9 456.9 928 455Z" fill="#3399ff"/>
<path d="M935.8 455C937.6 454.4 946.7 454.2 946.7 454.2L946.7 458.3C946.7 458.3 937.6 458.1 935.8 457.5C934 456.9 934 455.6 935.8 455Z" fill="#0000ff"/>
<path d="M946.7 479.2C946.7 479.2 935.8 481.3 933.3 483.3C930.8 485.4 932.1 488.9 931.7 491.7C931.2 494.4 931.1 498.6 930.8 500C930.6 501.4 931.1 498.9 930 500C928.9 501.1 925.1 504.6 924.2 506.7C923.2 508.8 923.2 509.9 924.2 512.5C925.1 515.1 927.4 518.8 930 522.5C932.6 526.2 940 535 940 535L946.7 535L946.7 478.3L946.7 479.2Z" fill="#66ffff"/>
<path d="M946.7 509.2C946.7 509.2 936.1 512.4 934.2 514.2C932.2 516 932.9 517.9 935 520C937.1 522.1 946.7 526.7 946.7 526.7L946.7 509.2Z" fill="#3399ff"/>
</g>
<g class="grid">
<line x1="262.8" y1="124.4" x2="937.5" y2="124.4" stroke-dasharray="1.7 8.12"/>
<line x1="262.8" y1="191.8" x2="937.5" y2="191.8" stroke-dasharray="1.7 8.12"/>
<line x1="262.8" y1="259.1" x2="937.5" y2="259.1" stroke-dasharray="1.7 8.12"/>
<line x1="262.8" y1="326.5" x2="937.5" y2="326.5" stroke-dasharray="1.7 8.12"/>
<line x1="262.8" y1="393.9" x2="937.5" y2="393.9" stroke-dasharray="1.7 8.12"/>
<line x1="262.8" y1="461.2" x2="937.5" y2="461.2" stroke-dasharray="1.7 8.12"/>
<line x1="262.8" y1="528.6" x2="937.5" y2="528.6" stroke-dasharray="1.7 8.12"/>
<line x1="262.8" y1="596" x2="937.5" y2="596" stroke-dasharray="1.7 8.12"/>
<line x1="262.8" y1="663.4" x2="937.5" y2="663.4" stroke-dasharray="1.7 8.12"/>
<line x1="262.8" y1="730.7" x2="937.5" y2="730.7" stroke-dasharray="1.7 8.12"/>
<line x1="262.8" y1="798.1" x2="937.5" y2="798.1" stroke-dasharray="1.7 8.12"/>
<line x1="301" y1="820.8" x2="301" y2="79.3" stroke-dasharray="1.5 8.032"/>
<line x1="358.9" y1="820.8" x2="358.9" y2="79.3" stroke-dasharray="1.5 8.032"/>
<line x1="416.7" y1="820.8" x2="416.7" y2="79.3" stroke-dasharray="1.5 8.032"/>
<line x1="474.6" y1="820.8" x2="474.6" y2="79.3" stroke-dasharray="1.5 8.032"/>
<line x1="532.4" y1="820.8" x2="532.4" y2="79.3" stroke-dasharray="1.5 8.032"/>
<line x1="590.2" y1="820.8" x2="590.2" y2="79.3" stroke-dasharray="1.5 8.032"/>
<line x1="648.1" y1="820.8" x2="648.1" y2="79.3" stroke-dasharray="1.5 8.032"/>
<line x1="706" y1="820.8" x2="706" y2="79.3" stroke-dasharray="1.5 8.032"/>
<line x1="763.8" y1="820.8" x2="763.8" y2="79.3" stroke-dasharray="1.5 8.032"/>
<line x1="821.6" y1="820.8" x2="821.6" y2="79.3" stroke-dasharray="1.5 8.032"/>
<line x1="879.5" y1="820.8" x2="879.5" y2="79.3" stroke-dasharray="1.5 8.032"/>
</g>
<g class="coast" clip-path="url(#fr)">
<path d="M278.3 79.7 288.3 95.8 295 101.7 300 110.8 303.7 121.7 322 129.5 325.8 139.2 317.5 135.8 310.8 141.7 317.5 147.5 322.5 155.8 317.8 163.3 307.2 161.7 298.7 165.5 291.7 159.7 278.3 171.3 295 179.7 308.8 191.2 318.7 189.5 326.2 195.8 327.8 208.3 327.8 215 327.5 221.7 324.2 233 332.8 229.7 329.5 239.7 320.8 243.3 313.7 249.5 303.7 251.7 300 261.3 305.3 271.7 300.5 278.8 293.3 285 288 293.3 293.3 301.7 291.7 313.3 293.3 325 298.7 333.3 304.7 352.5 306.2 355 330.8 393.3 348 401.2 359.2 401.2 380.8 405 389.2 408.8 403.3 421.3 428.3 460.8 437.5 465 444.2 445.3 453 441.2 454.7 429.5 464.7 431.3 474.7 416.2 481.7 409.2 472 411.3 468.7 400 468.7 385.3 456.2 385.3 449.2 379.5 438.7 377 430.3 373 420.5 357.8 411.7 351.7 406.2 313.3 399.2 309.2 406.7 314.7 416.7 330.8 425.5 335.3 435.5 333.3 440.8 341.2 450.8 343.3 456.2 351.2 465 355.5 470 363.3 478.3 369.2 486.7 373.3 497.5 375.3 488.7 379.5 498.7 377 506.2 383.7 507.5 395.3 514.7 401.7 524.7 416.7 524.7 431.3 519.7 439.2 517.8 451.2 525 457.5 530 465.3 536.3 470.8 543.7 479.2 554.2 477 563.3 478.8 572.8 483 593.3 487 610.3 495 620.8 511.2 630.8 513 646.7 520.3 658.3 524.7 672.5 537 677.5 545 685.3 548.7 693 555 698 562.8 705 569.2 709.7 578.8 716.7 584.7 722.5 593.3 725.5 603 721.7 613 723.3 625 728.7 632.8 721.7 638.7 716.7 646.7 727 644.5 718.3 648.7 716.7 660.8 703 672.5 699.5 682.2 709.7 698.8 723.3 710 728.8 718.3 737.2 722.5 749.5 720.5 783.7 736.3 788.7 729.2 788.8 715 785.8 705.8 780 696.7 762.8 688.7 757.5 680 751.2 660.5 773.3 656.7 783.7 673 800.8 680.5 810.8 682.8 817.5 688.3 806.2 688.8 810.8 696.7 821.2 698.8 812.8 702.8 818.3 711.7 821.3 722.5 816.3 730.3 814.5 742.5 828.3 754.7 835.8 758.3 843.8 765.6 853.8 780.6 860.6 798.8 860.6 814.4 867.5 814.4 869.4 802.5 866.2 792.5 866.2 778.8 867.5 766.7 872.8 758.7 890 750.5 900 748.7 920 752.5 930 756.7 937.5 758.3"/>
<path d="M422.5 343.3 431.7 345.5 437.5 353 427.5 355.5 420.3 349.2 422.5 343.3"/>
<path d="M325.8 79.7 332.8 85.8 350 93.7 355 101.7 372 109.7 392.5 113.7 401.7 118 408.3 123.7 418.3 125.5 430 125.5 440 127.5 457.5 135.5 469.7 135.5 478.7 139.5 487.5 138 495 130.8 498.7 121.7 497.5 109.2 498.7 98.3 496.3 89.2 490.8 79.7"/>
<path d="M450.5 101.2 456.3 109.5 447.5 113.7 450.5 101.2"/>
<path d="M322 129.5 325.8 118.7 331.7 110.8 334.7 101.7 344.5 99.7 358.3 112.5 367.5 116.2 387.5 119.7 473.3 159.5 481.7 155.5 495.8 143.3 503.3 140 511.7 133.3 519.5 129.5 526.7 135.8 538.3 135.8 545.8 141.7 554.2 145.8 560.8 153.3 569.5 157.5 579.7 147.5 583 156.7 588.3 165.8 605.5 173.3 608.3 181.7 610.5 195.3 622.5 195.3 630.8 199.5 640 195.3 648.3 200.8 661.7 211.7 671.7 209.7 682.5 203.8 689.4 199.4 698.8 197.5 707.5 193.8 715 187.5 713.1 172.5 711.9 162.5"/>
<path d="M673.7 79.7 675.8 96.7 679.2 113.3 685.8 131.7 690.6 140 696.9 150 703.1 163.1 713.1 161.9 717.5 164.4 722.5 172.5 728.8 191.2 723.8 183.8 723.8 192.5 722.5 200 720.2 207.5 728.8 203.8 734.4 211.2 735 220 741.7 242.5 747.5 250.8 750.8 260.8 755.8 269.2 760 280 785 319.2 792.5 325.8 810.8 355 817.5 365.3 824.7 371.3 835 369.5 838.3 379.2 869.2 427 878 431.3 880.8 440.3 886.7 449.2 895 453 915.3 457 920.8 465 937.5 478.7"/>
<path d="M925 469.2 920.8 470.8 917.5 480.8 908.3 485 895 473.3 889.2 465 880.8 461.2 870.8 463.3 865.8 471.3 872.5 483.3 872.5 485 867 485.3 859.2 488.8 854.2 497 853.8 505 853.8 581.3 855.3 583 865 584.7 874.2 588.7 880.8 596.7 889.7 600.5 895 608.8 891.7 618.3 885 624.2 867.8 632.5 864.2 642.5 857.5 648.8 860.8 659.2 871.7 675 874.7 698.3 874.7 712.5 869.2 720.8 862.5 726.3 852 728.7 847.5 735.8 840 742.5 831.7 746.3 845.8 760.8 854.2 764.7 856.2 778.3 862.5 796.9 862.5 811.2 860.6 814.4"/>
</g>
<rect x="262.6" y="79.3" width="674.9" height="741.2" fill="none" stroke="#000" stroke-width="1.5" stroke-linejoin="round"/>
<g class="tick">
<line x1="257.1" y1="124.4" x2="262.6" y2="124.4"/>
<line x1="257.1" y1="191.8" x2="262.6" y2="191.8"/>
<line x1="257.1" y1="259.1" x2="262.6" y2="259.1"/>
<line x1="257.1" y1="326.5" x2="262.6" y2="326.5"/>
<line x1="257.1" y1="393.9" x2="262.6" y2="393.9"/>
<line x1="257.1" y1="461.2" x2="262.6" y2="461.2"/>
<line x1="257.1" y1="528.6" x2="262.6" y2="528.6"/>
<line x1="257.1" y1="596" x2="262.6" y2="596"/>
<line x1="257.1" y1="663.4" x2="262.6" y2="663.4"/>
<line x1="257.1" y1="730.7" x2="262.6" y2="730.7"/>
<line x1="257.1" y1="798.1" x2="262.6" y2="798.1"/>
<line x1="301" y1="820.5" x2="301" y2="826.0"/>
<line x1="358.9" y1="820.5" x2="358.9" y2="826.0"/>
<line x1="416.7" y1="820.5" x2="416.7" y2="826.0"/>
<line x1="474.6" y1="820.5" x2="474.6" y2="826.0"/>
<line x1="532.4" y1="820.5" x2="532.4" y2="826.0"/>
<line x1="590.2" y1="820.5" x2="590.2" y2="826.0"/>
<line x1="648.1" y1="820.5" x2="648.1" y2="826.0"/>
<line x1="706" y1="820.5" x2="706" y2="826.0"/>
<line x1="763.8" y1="820.5" x2="763.8" y2="826.0"/>
<line x1="821.6" y1="820.5" x2="821.6" y2="826.0"/>
<line x1="879.5" y1="820.5" x2="879.5" y2="826.0"/>
</g>
<g opacity="0.999">
<text x="254.4 266.7 278.3 285.2 296.8" y="130.7" font-size="16.6" transform="scale(0.82,1)" stroke="#000" stroke-width="0.25">11.1N</text>
<text x="254.4 266.7 278.3 285.2 296.8" y="198.1" font-size="16.6" transform="scale(0.82,1)" stroke="#000" stroke-width="0.25">10.8N</text>
<text x="254.4 266.7 278.3 285.2 296.8" y="265.4" font-size="16.6" transform="scale(0.82,1)" stroke="#000" stroke-width="0.25">10.5N</text>
<text x="254.4 266.7 278.3 285.2 296.8" y="332.8" font-size="16.6" transform="scale(0.82,1)" stroke="#000" stroke-width="0.25">10.2N</text>
<text x="266.7 278.3 285.2 296.8" y="400.2" font-size="16.6" transform="scale(0.82,1)" stroke="#000" stroke-width="0.25">9.9N</text>
<text x="266.7 278.3 285.2 296.8" y="467.6" font-size="16.6" transform="scale(0.82,1)" stroke="#000" stroke-width="0.25">9.6N</text>
<text x="266.7 278.3 285.2 296.8" y="534.9" font-size="16.6" transform="scale(0.82,1)" stroke="#000" stroke-width="0.25">9.3N</text>
<text x="285.2 296.8" y="602.3" font-size="16.6" transform="scale(0.82,1)" stroke="#000" stroke-width="0.25">9N</text>
<text x="266.7 278.3 285.2 296.8" y="669.7" font-size="16.6" transform="scale(0.82,1)" stroke="#000" stroke-width="0.25">8.7N</text>
<text x="266.7 278.3 285.2 296.8" y="737" font-size="16.6" transform="scale(0.82,1)" stroke="#000" stroke-width="0.25">8.4N</text>
<text x="266.7 278.3 285.2 296.8" y="804.4" font-size="16.6" transform="scale(0.82,1)" stroke="#000" stroke-width="0.25">8.1N</text>
<text x="339.7 352 363.5 370.5 380.8" y="840.8" font-size="16.6" transform="scale(0.82,1)" stroke="#000" stroke-width="0.25">85.8W</text>
<text x="410.2 422.6 434.1 441 451.4" y="840.8" font-size="16.6" transform="scale(0.82,1)" stroke="#000" stroke-width="0.25">85.5W</text>
<text x="480.8 493.1 504.6 511.6 521.9" y="840.8" font-size="16.6" transform="scale(0.82,1)" stroke="#000" stroke-width="0.25">85.2W</text>
<text x="551.3 563.7 575.2 582.1 592.5" y="840.8" font-size="16.6" transform="scale(0.82,1)" stroke="#000" stroke-width="0.25">84.9W</text>
<text x="621.9 634.2 645.7 652.7 663" y="840.8" font-size="16.6" transform="scale(0.82,1)" stroke="#000" stroke-width="0.25">84.6W</text>
<text x="692.4 704.8 716.3 723.2 733.6" y="840.8" font-size="16.6" transform="scale(0.82,1)" stroke="#000" stroke-width="0.25">84.3W</text>
<text x="772.2 784.5 794.9" y="840.8" font-size="16.6" transform="scale(0.82,1)" stroke="#000" stroke-width="0.25">84W</text>
<text x="833.5 845.9 857.4 864.3 874.7" y="840.8" font-size="16.6" transform="scale(0.82,1)" stroke="#000" stroke-width="0.25">83.7W</text>
<text x="904.1 916.4 927.9 934.9 945.2" y="840.8" font-size="16.6" transform="scale(0.82,1)" stroke="#000" stroke-width="0.25">83.4W</text>
<text x="974.6 987 998.5 1005.4 1015.8" y="840.8" font-size="16.6" transform="scale(0.82,1)" stroke="#000" stroke-width="0.25">83.1W</text>
<text x="1045.2 1057.5 1069 1076 1086.3" y="840.8" font-size="16.6" transform="scale(0.82,1)" stroke="#000" stroke-width="0.25">82.8W</text>
</g>
<g class="cb">
<path d="M1057.9 132.3 L1068.85 91.0 L1079.8 132.3 Z" fill="#aaaaaa"/>
<rect x="1057.9" y="132.3" width="21.899999999999864" height="42.4" fill="#f5f5f5"/>
<rect x="1057.9" y="174.7" width="21.899999999999864" height="42.4" fill="#9932cc"/>
<rect x="1057.9" y="217" width="21.899999999999864" height="42.4" fill="#ff00ff"/>
<rect x="1057.9" y="259.4" width="21.899999999999864" height="42.4" fill="#990000"/>
<rect x="1057.9" y="301.8" width="21.899999999999864" height="42.4" fill="#cc3300"/>
<rect x="1057.9" y="344.1" width="21.899999999999864" height="42.4" fill="#ff0000"/>
<rect x="1057.9" y="386.5" width="21.899999999999864" height="42.4" fill="#ff6600"/>
<rect x="1057.9" y="428.9" width="21.899999999999864" height="42.4" fill="#ffcc00"/>
<rect x="1057.9" y="471.2" width="21.899999999999864" height="42.4" fill="#ffff00"/>
<rect x="1057.9" y="513.6" width="21.899999999999864" height="42.4" fill="#009000"/>
<rect x="1057.9" y="556" width="21.899999999999864" height="42.4" fill="#00c800"/>
<rect x="1057.9" y="598.3" width="21.899999999999864" height="42.4" fill="#00ff00"/>
<rect x="1057.9" y="640.7" width="21.899999999999864" height="42.4" fill="#0000ff"/>
<rect x="1057.9" y="683.1" width="21.899999999999864" height="42.4" fill="#3399ff"/>
<rect x="1057.9" y="725.4" width="21.899999999999864" height="42.4" fill="#66ffff"/>
<path d="M1057.9 767.8 L1068.85 808.6 L1079.8 767.8 Z" fill="#ffffff"/>
</g>
<g opacity="0.999">
<text x="952 963.9 975.9" y="139.6" font-size="20.4" transform="scale(1.14,1)" class="thin" stroke-width="0.35">200</text>
<text x="952 963.9 975.9" y="182" font-size="20.4" transform="scale(1.14,1)" class="thin" stroke-width="0.35">150</text>
<text x="952 963.9 975.9" y="224.3" font-size="20.4" transform="scale(1.14,1)" class="thin" stroke-width="0.35">120</text>
<text x="952 963.9 975.9" y="266.7" font-size="20.4" transform="scale(1.14,1)" class="thin" stroke-width="0.35">100</text>
<text x="952 963.9" y="309.1" font-size="20.4" transform="scale(1.14,1)" class="thin" stroke-width="0.35">90</text>
<text x="952 963.9" y="351.4" font-size="20.4" transform="scale(1.14,1)" class="thin" stroke-width="0.35">75</text>
<text x="952 963.9" y="393.8" font-size="20.4" transform="scale(1.14,1)" class="thin" stroke-width="0.35">60</text>
<text x="952 963.9" y="436.2" font-size="20.4" transform="scale(1.14,1)" class="thin" stroke-width="0.35">50</text>
<text x="952 963.9" y="478.5" font-size="20.4" transform="scale(1.14,1)" class="thin" stroke-width="0.35">40</text>
<text x="952 963.9" y="520.9" font-size="20.4" transform="scale(1.14,1)" class="thin" stroke-width="0.35">30</text>
<text x="952 963.9" y="563.3" font-size="20.4" transform="scale(1.14,1)" class="thin" stroke-width="0.35">25</text>
<text x="952 963.9" y="605.6" font-size="20.4" transform="scale(1.14,1)" class="thin" stroke-width="0.35">20</text>
<text x="952 963.9" y="648" font-size="20.4" transform="scale(1.14,1)" class="thin" stroke-width="0.35">15</text>
<text x="952 963.9 975.7 981.8" y="690.4" font-size="20.4" transform="scale(1.14,1)" class="thin" stroke-width="0.35">12.5</text>
<text x="952" y="732.7" font-size="20.4" transform="scale(1.14,1)" class="thin" stroke-width="0.35">7</text>
<text x="952 963.8 969.9" y="775.1" font-size="20.4" transform="scale(1.14,1)" class="thin" stroke-width="0.35">3.5</text>
<text x="141.8 149.7 175.8 206.2 222.1 242.1 261.8 283.3 303.9 325.6 333.3 357.4 380.5 388.7 407.7 431.2 444.4 467.8 480.6 500.5 518.7 527.6 547.2 556.9 568.8 589.2 607.5 616.3 636.4 659.4 671 692.7 711.4 732.7 763.1 782.8 791.6 811.7 831.8 854.8 868.2 887.8 910.8 925.3 948.8 962.8 982.8 1003.4 1016.6 1036.6 1057.6 1072.5 1087.7 1119.3 1150.7" y="30.2" font-size="32.4" transform="scale(0.92,1)" class="thin" stroke-width="1.0">IMN/SARAPIQUI_5 Precipitacion Acumulada en 6 horas (mm)</text>
<text x="480.3 500.5 520.7 541 561.2 587.6 607.8 628 654.4 674.6 697.4 711.1 731.3 750.7" y="62.5" font-size="32.4" transform="scale(0.96,1)" class="thin" stroke-width="1.0">2024<tspan textLength="24.3" lengthAdjust="spacingAndGlyphs">-</tspan>07<tspan textLength="24.3" lengthAdjust="spacingAndGlyphs">-</tspan>12 09Z</text>
<text x="296.6 303.6 317.8 331.3 339.4 346.3 354.9 369.7 378.2 394.6 403.4 422.4 436.8 445 458.9 473.5 483 497 503.4 517.7 531.7 538.4 551.7 568 577.3 594.6 609.2 622.2 628.6 642.9 657.2 671.2 679.6 688.5 705.5 719.7 733.1 741.7 758 766.9 783.5 790.2 803.5" y="876.2" font-size="22.8" transform="scale(1.1,1)" class="thin" stroke-width="0.8">Instituto Meteorologico Nacional Costa Rica</text>
</g>
</svg>
</body></html>
